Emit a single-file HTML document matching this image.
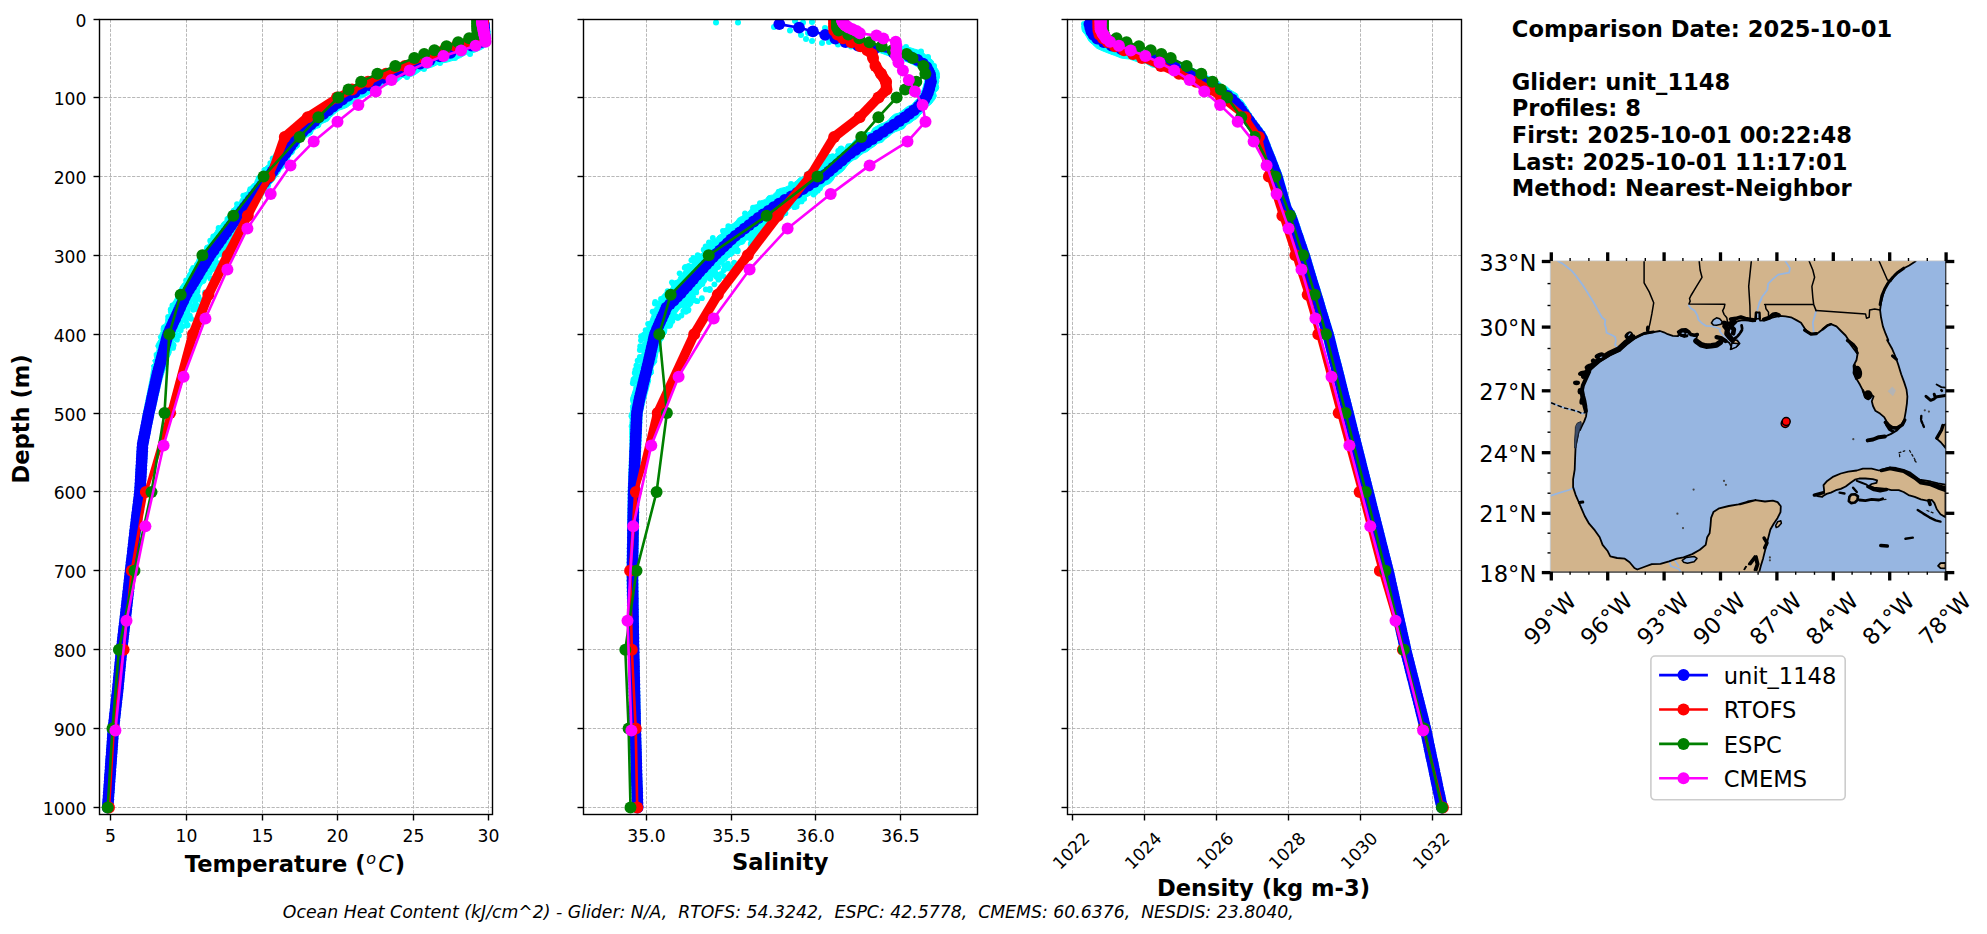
<!DOCTYPE html>
<html lang="en"><head><meta charset="utf-8"><title>Glider vs model comparison</title>
<style>html,body{margin:0;padding:0;background:#fff}svg{display:block}</style></head>
<body>
<svg width="1987" height="934" viewBox="0 0 1987 934" font-family="'DejaVu Sans','Liberation Sans',sans-serif">
<rect width="1987" height="934" fill="#fff"/>
<g id="panel1">
<g stroke="#b0b0b0" stroke-width="0.9" stroke-dasharray="3.25 1.4" fill="none">
<line x1="110.5" y1="19.5" x2="110.5" y2="814.5"/>
<line x1="186.5" y1="19.5" x2="186.5" y2="814.5"/>
<line x1="262.5" y1="19.5" x2="262.5" y2="814.5"/>
<line x1="337.5" y1="19.5" x2="337.5" y2="814.5"/>
<line x1="413.5" y1="19.5" x2="413.5" y2="814.5"/>
<line x1="488.5" y1="19.5" x2="488.5" y2="814.5"/>
<line x1="99.5" y1="97.5" x2="492.5" y2="97.5"/>
<line x1="99.5" y1="176.5" x2="492.5" y2="176.5"/>
<line x1="99.5" y1="255.5" x2="492.5" y2="255.5"/>
<line x1="99.5" y1="334.5" x2="492.5" y2="334.5"/>
<line x1="99.5" y1="413.5" x2="492.5" y2="413.5"/>
<line x1="99.5" y1="491.5" x2="492.5" y2="491.5"/>
<line x1="99.5" y1="570.5" x2="492.5" y2="570.5"/>
<line x1="99.5" y1="649.5" x2="492.5" y2="649.5"/>
<line x1="99.5" y1="728.5" x2="492.5" y2="728.5"/>
<line x1="99.5" y1="807.5" x2="492.5" y2="807.5"/>
</g>
<clipPath id="clip0"><rect x="99.5" y="19.5" width="393" height="795"/></clipPath>
<g clip-path="url(#clip0)">
<g fill="#00ffff"><circle cx="214.9" cy="268.4" r="2.9"/><circle cx="196.2" cy="298.5" r="2.9"/><circle cx="234.1" cy="242.4" r="2.9"/><circle cx="189.9" cy="315.7" r="2.9"/><circle cx="191.2" cy="318.8" r="2.9"/><circle cx="231.5" cy="246.5" r="2.9"/><circle cx="180.7" cy="330.2" r="2.9"/><circle cx="198.4" cy="296.7" r="2.9"/><circle cx="228" cy="248" r="2.9"/><circle cx="233.8" cy="243.6" r="2.9"/><circle cx="229.6" cy="247.7" r="2.9"/><circle cx="201.1" cy="300.1" r="2.9"/><circle cx="182.6" cy="326.5" r="2.9"/><circle cx="210.5" cy="270.6" r="2.9"/><circle cx="240.3" cy="227.9" r="2.9"/><circle cx="173.4" cy="345.3" r="2.9"/><circle cx="230.5" cy="246.2" r="2.9"/><circle cx="212.6" cy="269" r="2.9"/><circle cx="173.5" cy="345" r="2.9"/><circle cx="195.5" cy="301.2" r="2.9"/><circle cx="213.9" cy="267" r="2.9"/><circle cx="230.7" cy="243.5" r="2.9"/><circle cx="186" cy="321.3" r="2.9"/><circle cx="186.6" cy="325.6" r="2.9"/><circle cx="231.9" cy="246.4" r="2.9"/><circle cx="196.5" cy="299.2" r="2.9"/><circle cx="205" cy="292.5" r="2.9"/><circle cx="209.5" cy="272.9" r="2.9"/><circle cx="173.2" cy="346.7" r="2.9"/><circle cx="236.8" cy="236.5" r="2.9"/><circle cx="217.1" cy="262.9" r="2.9"/><circle cx="195.6" cy="309" r="2.9"/><circle cx="218.4" cy="269.8" r="2.9"/><circle cx="195.5" cy="304.3" r="2.9"/><circle cx="197.5" cy="291.4" r="2.9"/><circle cx="232.3" cy="243.7" r="2.9"/><circle cx="187.5" cy="312.4" r="2.9"/><circle cx="193.6" cy="306.1" r="2.9"/><circle cx="196.7" cy="298.6" r="2.9"/><circle cx="225.5" cy="250.9" r="2.9"/><circle cx="173" cy="347.9" r="2.9"/><circle cx="178.9" cy="335.5" r="2.9"/><circle cx="239.6" cy="232.1" r="2.9"/><circle cx="243.8" cy="223.5" r="2.9"/><circle cx="219" cy="268.9" r="2.9"/><circle cx="187" cy="317.6" r="2.9"/><circle cx="197.9" cy="306.1" r="2.9"/><circle cx="229.1" cy="244" r="2.9"/><circle cx="221.9" cy="262.2" r="2.9"/><circle cx="222.3" cy="254.5" r="2.9"/><circle cx="195.7" cy="303.6" r="2.9"/><circle cx="210.4" cy="278.4" r="2.9"/><circle cx="241.6" cy="224.6" r="2.9"/><circle cx="241.9" cy="224.3" r="2.9"/><circle cx="187.7" cy="325" r="2.9"/><circle cx="234.1" cy="238.2" r="2.9"/><circle cx="243.5" cy="222.8" r="2.9"/><circle cx="193" cy="309.8" r="2.9"/><circle cx="177" cy="339.7" r="2.9"/><circle cx="240.3" cy="228.1" r="2.9"/><circle cx="218.6" cy="230.5" r="2.9"/><circle cx="286.1" cy="140.3" r="2.9"/><circle cx="213.3" cy="236.3" r="2.9"/><circle cx="233.7" cy="210.6" r="2.9"/><circle cx="250.2" cy="189.2" r="2.9"/><circle cx="218.7" cy="231.1" r="2.9"/><circle cx="279.4" cy="149.6" r="2.9"/><circle cx="270.3" cy="163.1" r="2.9"/><circle cx="272.7" cy="158.3" r="2.9"/><circle cx="172.4" cy="305.5" r="2.9"/><circle cx="200.5" cy="255.4" r="2.9"/><circle cx="178.1" cy="294.2" r="2.9"/><circle cx="210.2" cy="240.7" r="2.9"/><circle cx="193.1" cy="267.8" r="2.9"/><circle cx="191.6" cy="270.6" r="2.9"/><circle cx="258.6" cy="178.1" r="2.9"/><circle cx="186.1" cy="280.3" r="2.9"/><circle cx="168.1" cy="316.8" r="2.9"/><circle cx="189.5" cy="276" r="2.9"/><circle cx="243.3" cy="195.6" r="2.9"/><circle cx="264.4" cy="169.9" r="2.9"/><circle cx="287.2" cy="138.9" r="2.9"/><circle cx="218.6" cy="228" r="2.9"/><circle cx="170.7" cy="309.5" r="2.9"/><circle cx="237" cy="204.1" r="2.9"/></g>
<polygon fill="#00ffff" stroke="#00ffff" stroke-width="1" stroke-linejoin="round" points="479,24.3 479.1,26.7 479.2,29 479.3,31.4 479.3,33.8 479.5,35 480.2,35.8 479.3,36.7 476.6,38.6 470.4,40.8 463.6,43.1 456.4,45.4 449.8,47.8 443,50.2 435.7,52.5 429.1,54.9 422.8,57.3 416.4,59.7 410.2,62 404.1,64.3 398.1,66.7 392,69 386.5,71.3 381,73.6 375.5,75.9 370.4,78.3 365.5,80.6 360.6,82.9 355.9,85.2 351.3,87.6 346.6,90 341.8,92.4 338.4,94.8 335,97.3 331.8,99.5 328.6,101.8 325.4,104.1 321.6,105.5 319.2,108.9 315.9,111.4 312.8,113.5 309.7,115.6 307.6,118.7 304.5,120.5 301.6,122.6 298.7,124.6 295.5,126.6 293,129.7 290.2,132.3 287.9,134.7 287.2,138.2 283.9,139.5 283.3,142.6 281.8,145.1 280.3,147.6 278.1,149.6 276,151.7 274,153.8 273.2,156.8 272.1,159.6 269.8,161.5 268.6,164.2 266.1,166 264.2,168.2 263,170.7 260.3,172.3 258.9,174.8 257.3,177.4 255.5,179.8 254.5,182.8 251.8,184.6 250.1,187 248,189.2 246.8,192.1 243.5,193.3 243.4,197.1 240.6,198.7 239.5,201.7 237,203.5 235.1,205.9 233.2,208.4 231.3,210.8 228.7,212.6 227.9,215.7 225.2,217.4 224.9,220.7 222.3,222.5 220.8,225 219.3,227.5 216.7,229.2 215.2,231.7 213.5,234 211.8,236.4 210,238.7 209.6,242 208.3,244.5 205,245.9 204.4,249.1 203,251.8 201.7,254.4 198.6,255.9 197.4,258.4 196.5,261.1 194.7,263.3 194.1,266.1 191.9,268 191.3,270.9 188.5,272.5 187.5,275.1 186.6,277.8 185.9,280.6 183.6,282.5 181.9,284.6 180.2,287.1 179.1,289.9 177.9,292.6 176.1,294.9 175.6,297.6 174.5,300 172.9,302.1 172.6,304.8 170.3,306.6 169.8,309.2 168.4,311.5 169.2,314.7 167.5,316.7 165.8,318.8 165.6,321.6 164.8,324.1 161.9,325.6 161.1,328.5 161.2,331.7 159.9,334.2 158.2,336.6 159.2,339.4 157.8,341.6 156.6,343.8 155.7,346.1 157.2,349 156.7,351.4 154.2,353.3 154.2,355.8 154.8,358.5 152.6,360.5 154.1,363.4 151.5,365.3 152,367.9 151.5,370.4 151.1,372.9 150.7,375.4 150.3,377.8 149.9,380.2 149.4,382.6 149,385 148.5,387.3 148,389.7 147.5,392.1 147.1,394.5 146.6,396.8 146.1,399.2 145.6,401.6 145.2,404 144.7,406.3 144.2,408.7 143.7,411.2 143.3,413.6 142.9,416 142.5,418.4 142,420.7 141.6,423.1 141.2,425.5 140.8,427.9 140.3,430.2 139.9,432.6 139.4,435 138.9,437.3 138.5,439.7 138,442.3 137.6,444.8 137.4,447.4 137.3,449.8 137.2,452.2 137,454.6 136.9,456.9 136.8,459.3 136.6,461.7 136.5,464 136.3,466.4 136.2,468.8 136.1,471.1 135.9,473.5 135.8,475.9 135.7,478.2 135.5,480.6 135.4,483 135.3,485.3 135.1,487.7 135,490 134.8,492.2 134.5,494.5 134.3,496.8 134,499.2 133.7,501.6 133.4,503.9 133.1,506.3 132.8,508.7 132.5,511 132.2,513.4 131.9,515.8 131.6,518.1 131.3,520.5 131,522.9 130.8,525.3 130.5,527.7 130.2,530 130,532.4 129.7,534.8 129.4,537.1 129.1,539.5 128.9,541.9 128.6,544.2 128.3,546.6 128.1,549 127.8,551.3 127.5,553.7 127.3,556.1 127,558.4 126.7,560.8 126.4,563.2 126.2,565.5 125.9,567.9 125.6,570.3 125.4,572.6 125.1,575 124.8,577.4 124.6,579.7 124.3,582.1 124,584.5 123.8,586.8 123.5,589.2 123.2,591.6 123,593.9 122.7,596.3 122.5,598.7 122.2,601 121.9,603.4 121.7,605.8 121.4,608.1 121.1,610.5 120.9,612.9 120.6,615.2 120.3,617.6 120.1,619.9 119.8,622.3 119.5,624.7 119.2,627 118.9,629.4 118.7,631.8 118.4,634.1 118.1,636.5 117.8,638.9 117.6,641.2 117.3,643.6 117,646 116.7,648.4 116.5,650.8 116.2,653.2 116,655.5 115.8,657.9 115.6,660.3 115.3,662.6 115.1,665 114.9,667.4 114.6,669.7 114.4,672.1 114.2,674.5 114,676.8 113.7,679.2 113.5,681.6 113.3,683.9 113.1,686.3 112.8,688.6 112.6,691 112.3,693.3 112,695.7 111.8,698.1 111.5,700.4 111.2,702.8 111,705.2 110.7,707.5 110.5,709.9 110.2,712.3 109.9,714.6 109.7,717 109.4,719.4 109.1,721.7 108.9,724.1 108.6,726.5 108.4,728.9 108.2,731.4 108,733.8 107.8,736.1 107.7,738.5 107.5,740.9 107.3,743.2 107.2,745.6 107,748 106.8,750.3 106.6,752.7 106.5,755.1 106.3,757.4 106.1,759.8 106,762.2 105.8,764.5 105.6,766.9 105.4,769.3 105.3,771.6 105.1,774 104.9,776.4 104.8,778.7 104.6,781.1 104.4,783.5 104.3,785.8 104.1,788.2 103.9,790.6 103.7,792.9 103.6,795.3 103.4,797.7 103.2,800 103.1,802.4 102.9,804.8 102.7,807.1 112.7,807.9 112.9,805.5 113,803.1 113.2,800.8 113.4,798.4 113.5,796 113.7,793.7 113.9,791.3 114.1,788.9 114.2,786.6 114.4,784.2 114.6,781.8 114.7,779.5 114.9,777.1 115.1,774.7 115.3,772.4 115.4,770 115.6,767.6 115.8,765.3 115.9,762.9 116.1,760.5 116.3,758.2 116.4,755.8 116.6,753.4 116.8,751.1 117,748.7 117.1,746.3 117.3,744 117.5,741.6 117.6,739.2 117.8,736.9 118,734.5 118.2,732.1 118.3,729.8 118.6,727.5 118.8,725.2 119.1,722.8 119.3,720.5 119.6,718.1 119.9,715.7 120.1,713.4 120.4,711 120.7,708.6 120.9,706.3 121.2,703.9 121.4,701.5 121.7,699.2 122,696.8 122.2,694.4 122.5,692.1 122.8,689.7 123,687.3 123.2,684.9 123.5,682.5 123.7,680.2 123.9,677.8 124.1,675.4 124.4,673.1 124.6,670.7 124.8,668.3 125.1,666 125.3,663.6 125.5,661.2 125.7,658.9 126,656.5 126.2,654.1 126.4,651.8 126.7,649.5 126.9,647.1 127.2,644.8 127.5,642.4 127.8,640 128,637.7 128.3,635.3 128.6,632.9 128.9,630.6 129.2,628.2 129.4,625.8 129.7,623.5 130,621.1 130.3,618.7 130.5,616.4 130.8,614 131.1,611.6 131.3,609.2 131.6,606.9 131.9,604.5 132.1,602.1 132.4,599.8 132.7,597.4 132.9,595 133.2,592.7 133.4,590.3 133.7,587.9 134,585.6 134.2,583.2 134.5,580.8 134.8,578.5 135,576.1 135.3,573.7 135.6,571.4 135.8,569 136.1,566.7 136.4,564.3 136.6,561.9 136.9,559.6 137.2,557.2 137.5,554.8 137.7,552.5 138,550.1 138.3,547.7 138.5,545.4 138.8,543 139.1,540.6 139.3,538.3 139.6,535.9 139.9,533.5 140.2,531.2 140.4,528.8 140.7,526.4 141,524.1 141.3,521.7 141.5,519.4 141.8,517 142.1,514.6 142.4,512.3 142.7,509.9 143,507.5 143.3,505.2 143.6,502.8 143.9,500.4 144.2,498.1 144.5,495.6 144.8,493.2 145,490.8 145.1,488.3 145.3,485.9 145.4,483.5 145.5,481.2 145.7,478.8 145.8,476.4 145.9,474.1 146.1,471.7 146.2,469.3 146.3,467 146.5,464.6 146.6,462.2 146.7,459.9 146.9,457.5 147,455.1 147.1,452.8 147.3,450.4 147.4,448.2 147.5,446 147.9,443.8 148.3,441.6 148.7,439.3 149.2,436.9 149.7,434.5 150.1,432.2 150.6,429.8 151.1,427.4 151.6,425.1 152.1,422.7 152.6,420.3 153.1,418 153.5,415.7 154,413.3 154.6,411 155.1,408.6 155.7,406.3 156.2,403.9 156.8,401.6 157.3,399.2 157.9,396.8 158.4,394.5 158.9,392.1 159.5,389.8 160,387.4 160.6,385 161.1,382.7 161.8,380.3 162.5,378 163.1,375.8 163.8,373.5 164.6,371.2 165.4,368.9 166.1,366.6 168.1,364.6 167.9,362 167.7,359.4 169,357.2 170.2,355 171.2,352.8 171.2,350.2 173,348.1 173.2,345.7 174.7,343.5 173.5,340.7 176.4,339.4 176.2,337.1 178,335.4 177.4,332.7 179.7,330.9 179.5,328 180.9,325.7 183,323.8 183.2,321.1 185.5,319.3 184.9,316.1 188.1,314.7 188.8,312.2 189.9,309.8 190.8,307.4 191.4,304.8 192.5,302.6 193.2,300.3 194.2,298.1 196.1,296.3 197,293.8 199.4,292.1 199.9,289.1 201,286.5 202.4,284.1 205.4,282.8 206.3,280.1 207.8,277.7 208.7,275 210.5,272.9 211.7,270.4 213.7,268.3 214.7,265.7 217.2,264.1 216.9,260.9 218.1,258.4 219.8,256.3 222.2,254.4 224,252.1 226.2,250.1 227.4,247.4 227.6,244 230.5,242.5 231.5,239.7 233.9,237.8 235.5,235.4 236.8,232.7 238.3,230.3 239,227.2 241.6,225.5 243.2,223.2 244.8,220.9 246.1,218.3 247.8,215.9 250.6,214.2 250.7,210.5 252.4,208 254.1,205.5 256.7,203.7 258.5,201.3 260.4,199 262.3,196.7 263.8,194 265.7,191.7 267.7,189.4 270.1,187.5 270.7,184 273,181.9 274.8,179.5 276.5,177.1 278.3,174.7 280,172.3 281.3,169.7 283.8,167.9 285,165.2 286.8,162.9 289.1,161 289.6,157.7 291.2,155.3 293.8,153.7 294.8,150.8 296.9,148.7 299.3,146.9 299.5,143.8 301,141.7 303.6,140.1 305.6,137.6 308.9,136 312,134.2 313.4,130.5 316.4,128.5 320,127.3 321.4,123.7 324.8,122.4 328.4,120.8 330.6,117.4 333.5,114.8 336.5,112.2 339.7,109.9 343.7,108.7 347,107.3 349.8,105.3 353.8,102.6 357.3,99 362.3,97.8 366.9,95.4 371.4,92.6 376.3,90.7 380.8,87.5 386.2,85.3 391.7,83.5 397.3,81.7 402.4,77.5 409.2,77.2 415.1,74.7 420.6,70.8 426.9,68.6 433.3,66.6 439.6,63.4 447.1,62.1 454,60.1 460.6,57.6 467.3,53.8 474.8,52.2 481.8,49.2 486.7,46.2 490.2,41.6 490.6,37.2 490.4,33.4 490,31 489.7,28.7 489.3,26.3 489,23.9"/>
<g fill="#00ffff"><circle cx="470" cy="54" r="3"/><circle cx="455" cy="58" r="3"/><circle cx="440" cy="63" r="3"/><circle cx="424" cy="69" r="3"/><circle cx="407" cy="77" r="3"/></g>
<polyline fill="none" stroke="#0000ff" stroke-width="2.6" stroke-linejoin="round" points="484,24.1 484.1,27.7 484.3,31.3 484.4,34.9 484.4,38.5 481.2,42.1 471.5,45.7 460.8,49.2 450.5,52.8 439.9,56.4 429.8,60 420.2,63.6 410.8,67.2 401.7,70.8 392.7,74.4 384.6,78 376.4,81.6 369,85.1 361.8,88.7 354.8,92.3 348,95.9 342.3,99.5 337.6,103.1 332.9,106.7 328.2,110.3 323.4,113.9 318.7,117.4 314.7,121 310.7,124.6 306.7,128.2 302.7,131.8 298.7,135.4 295.5,139 293,142.6 290.4,146.2 287.9,149.8 285.4,153.3 282.8,156.9 280.3,160.5 277.7,164.1 275.2,167.7 272.6,171.3 270.1,174.9 267.4,178.5 264.5,182.1 261.7,185.6 258.9,189.2 256.1,192.8 253.3,196.4 250.4,200 247.6,203.6 244.8,207.2 242,210.8 239.1,214.4 236.5,218 233.9,221.5 231.4,225.1 228.8,228.7 226.3,232.3 223.7,235.9 221.2,239.5 218.7,243.1 216.1,246.7 213.6,250.3 211,253.8 208.7,257.4 206.5,261 204.3,264.6 202.1,268.2 199.9,271.8 197.8,275.4 195.6,279 193.4,282.6 191.2,286.2 189,289.7 186.8,293.3 185,296.9 183.4,300.5 181.7,304.1 180.1,307.7 178.4,311.3 176.8,314.9 175.2,318.5 173.5,322 171.9,325.6 170.2,329.2 168.6,332.8 167.4,336.4 166.4,340 165.5,343.6 164.5,347.2 163.6,350.8 162.6,354.4 161.7,357.9 160.7,361.5 159.8,365.1 158.8,368.7 157.8,372.3 157,375.9 156.2,379.5 155.4,383.1 154.6,386.7 153.8,390.2 153,393.8 152.2,397.4 151.5,401 150.7,404.6 149.9,408.2 149.1,411.8 148.3,415.4 147.6,419 146.9,422.6 146.2,426.1 145.5,429.7 144.8,433.3 144.1,436.9 143.4,440.5 142.7,444.1 142.4,447.7 142.2,451.3 142,454.9 141.8,458.4 141.6,462 141.4,465.6 141.2,469.2 141,472.8 140.8,476.4 140.6,480 140.4,483.6 140.2,487.2 140,490.8 139.6,494.3 139.2,497.9 138.7,501.5 138.3,505.1 137.8,508.7 137.4,512.3 136.9,515.9 136.5,519.5 136.1,523.1 135.6,526.6 135.2,530.2 134.8,533.8 134.4,537.4 134,541 133.6,544.6 133.2,548.2 132.8,551.8 132.4,555.4 132,559 131.5,562.5 131.1,566.1 130.7,569.7 130.3,573.3 129.9,576.9 129.5,580.5 129.1,584.1 128.7,587.7 128.3,591.3 127.9,594.8 127.5,598.4 127.1,602 126.7,605.6 126.3,609.2 125.9,612.8 125.5,616.4 125.1,620 124.7,623.6 124.2,627.1 123.8,630.7 123.4,634.3 123,637.9 122.6,641.5 122.1,645.1 121.7,648.7 121.4,652.3 121,655.9 120.7,659.5 120.3,663 120,666.6 119.6,670.2 119.3,673.8 118.9,677.4 118.6,681 118.2,684.6 117.9,688.2 117.5,691.8 117.1,695.3 116.7,698.9 116.3,702.5 115.9,706.1 115.5,709.7 115.1,713.3 114.7,716.9 114.3,720.5 113.9,724.1 113.5,727.7 113.2,731.2 112.9,734.8 112.7,738.4 112.4,742 112.2,745.6 111.9,749.2 111.7,752.8 111.4,756.4 111.1,760 110.9,763.5 110.6,767.1 110.4,770.7 110.1,774.3 109.8,777.9 109.6,781.5 109.3,785.1 109.1,788.7 108.8,792.3 108.5,795.9 108.3,799.4 108,803 107.8,806.6 107.7,807.5"/>
<g fill="#0000ff"><circle cx="484" cy="24.1" r="5.9"/><circle cx="484.1" cy="27.7" r="5.9"/><circle cx="484.3" cy="31.3" r="5.9"/><circle cx="484.4" cy="34.9" r="5.9"/><circle cx="484.4" cy="38.5" r="5.9"/><circle cx="481.2" cy="42.1" r="5.9"/><circle cx="471.5" cy="45.7" r="5.9"/><circle cx="460.8" cy="49.2" r="5.9"/><circle cx="450.5" cy="52.8" r="5.9"/><circle cx="439.9" cy="56.4" r="5.9"/><circle cx="429.8" cy="60" r="5.9"/><circle cx="420.2" cy="63.6" r="5.9"/><circle cx="410.8" cy="67.2" r="5.9"/><circle cx="401.7" cy="70.8" r="5.9"/><circle cx="392.7" cy="74.4" r="5.9"/><circle cx="384.6" cy="78" r="5.9"/><circle cx="376.4" cy="81.6" r="5.9"/><circle cx="369" cy="85.1" r="5.9"/><circle cx="361.8" cy="88.7" r="5.9"/><circle cx="354.8" cy="92.3" r="5.9"/><circle cx="348" cy="95.9" r="5.9"/><circle cx="342.3" cy="99.5" r="5.9"/><circle cx="337.6" cy="103.1" r="5.9"/><circle cx="332.9" cy="106.7" r="5.9"/><circle cx="328.2" cy="110.3" r="5.9"/><circle cx="323.4" cy="113.9" r="5.9"/><circle cx="318.7" cy="117.4" r="5.9"/><circle cx="314.7" cy="121" r="5.9"/><circle cx="310.7" cy="124.6" r="5.9"/><circle cx="306.7" cy="128.2" r="5.9"/><circle cx="302.7" cy="131.8" r="5.9"/><circle cx="298.7" cy="135.4" r="5.9"/><circle cx="295.5" cy="139" r="5.9"/><circle cx="293" cy="142.6" r="5.9"/><circle cx="290.4" cy="146.2" r="5.9"/><circle cx="287.9" cy="149.8" r="5.9"/><circle cx="285.4" cy="153.3" r="5.9"/><circle cx="282.8" cy="156.9" r="5.9"/><circle cx="280.3" cy="160.5" r="5.9"/><circle cx="277.7" cy="164.1" r="5.9"/><circle cx="275.2" cy="167.7" r="5.9"/><circle cx="272.6" cy="171.3" r="5.9"/><circle cx="270.1" cy="174.9" r="5.9"/><circle cx="267.4" cy="178.5" r="5.9"/><circle cx="264.5" cy="182.1" r="5.9"/><circle cx="261.7" cy="185.6" r="5.9"/><circle cx="258.9" cy="189.2" r="5.9"/><circle cx="256.1" cy="192.8" r="5.9"/><circle cx="253.3" cy="196.4" r="5.9"/><circle cx="250.4" cy="200" r="5.9"/><circle cx="247.6" cy="203.6" r="5.9"/><circle cx="244.8" cy="207.2" r="5.9"/><circle cx="242" cy="210.8" r="5.9"/><circle cx="239.1" cy="214.4" r="5.9"/><circle cx="236.5" cy="218" r="5.9"/><circle cx="233.9" cy="221.5" r="5.9"/><circle cx="231.4" cy="225.1" r="5.9"/><circle cx="228.8" cy="228.7" r="5.9"/><circle cx="226.3" cy="232.3" r="5.9"/><circle cx="223.7" cy="235.9" r="5.9"/><circle cx="221.2" cy="239.5" r="5.9"/><circle cx="218.7" cy="243.1" r="5.9"/><circle cx="216.1" cy="246.7" r="5.9"/><circle cx="213.6" cy="250.3" r="5.9"/><circle cx="211" cy="253.8" r="5.9"/><circle cx="208.7" cy="257.4" r="5.9"/><circle cx="206.5" cy="261" r="5.9"/><circle cx="204.3" cy="264.6" r="5.9"/><circle cx="202.1" cy="268.2" r="5.9"/><circle cx="199.9" cy="271.8" r="5.9"/><circle cx="197.8" cy="275.4" r="5.9"/><circle cx="195.6" cy="279" r="5.9"/><circle cx="193.4" cy="282.6" r="5.9"/><circle cx="191.2" cy="286.2" r="5.9"/><circle cx="189" cy="289.7" r="5.9"/><circle cx="186.8" cy="293.3" r="5.9"/><circle cx="185" cy="296.9" r="5.9"/><circle cx="183.4" cy="300.5" r="5.9"/><circle cx="181.7" cy="304.1" r="5.9"/><circle cx="180.1" cy="307.7" r="5.9"/><circle cx="178.4" cy="311.3" r="5.9"/><circle cx="176.8" cy="314.9" r="5.9"/><circle cx="175.2" cy="318.5" r="5.9"/><circle cx="173.5" cy="322" r="5.9"/><circle cx="171.9" cy="325.6" r="5.9"/><circle cx="170.2" cy="329.2" r="5.9"/><circle cx="168.6" cy="332.8" r="5.9"/><circle cx="167.4" cy="336.4" r="5.9"/><circle cx="166.4" cy="340" r="5.9"/><circle cx="165.5" cy="343.6" r="5.9"/><circle cx="164.5" cy="347.2" r="5.9"/><circle cx="163.6" cy="350.8" r="5.9"/><circle cx="162.6" cy="354.4" r="5.9"/><circle cx="161.7" cy="357.9" r="5.9"/><circle cx="160.7" cy="361.5" r="5.9"/><circle cx="159.8" cy="365.1" r="5.9"/><circle cx="158.8" cy="368.7" r="5.9"/><circle cx="157.8" cy="372.3" r="5.9"/><circle cx="157" cy="375.9" r="5.9"/><circle cx="156.2" cy="379.5" r="5.9"/><circle cx="155.4" cy="383.1" r="5.9"/><circle cx="154.6" cy="386.7" r="5.9"/><circle cx="153.8" cy="390.2" r="5.9"/><circle cx="153" cy="393.8" r="5.9"/><circle cx="152.2" cy="397.4" r="5.9"/><circle cx="151.5" cy="401" r="5.9"/><circle cx="150.7" cy="404.6" r="5.9"/><circle cx="149.9" cy="408.2" r="5.9"/><circle cx="149.1" cy="411.8" r="5.9"/><circle cx="148.3" cy="415.4" r="5.9"/><circle cx="147.6" cy="419" r="5.9"/><circle cx="146.9" cy="422.6" r="5.9"/><circle cx="146.2" cy="426.1" r="5.9"/><circle cx="145.5" cy="429.7" r="5.9"/><circle cx="144.8" cy="433.3" r="5.9"/><circle cx="144.1" cy="436.9" r="5.9"/><circle cx="143.4" cy="440.5" r="5.9"/><circle cx="142.7" cy="444.1" r="5.9"/><circle cx="142.4" cy="447.7" r="5.9"/><circle cx="142.2" cy="451.3" r="5.9"/><circle cx="142" cy="454.9" r="5.9"/><circle cx="141.8" cy="458.4" r="5.9"/><circle cx="141.6" cy="462" r="5.9"/><circle cx="141.4" cy="465.6" r="5.9"/><circle cx="141.2" cy="469.2" r="5.9"/><circle cx="141" cy="472.8" r="5.9"/><circle cx="140.8" cy="476.4" r="5.9"/><circle cx="140.6" cy="480" r="5.9"/><circle cx="140.4" cy="483.6" r="5.9"/><circle cx="140.2" cy="487.2" r="5.9"/><circle cx="140" cy="490.8" r="5.9"/><circle cx="139.6" cy="494.3" r="5.9"/><circle cx="139.2" cy="497.9" r="5.9"/><circle cx="138.7" cy="501.5" r="5.9"/><circle cx="138.3" cy="505.1" r="5.9"/><circle cx="137.8" cy="508.7" r="5.9"/><circle cx="137.4" cy="512.3" r="5.9"/><circle cx="136.9" cy="515.9" r="5.9"/><circle cx="136.5" cy="519.5" r="5.9"/><circle cx="136.1" cy="523.1" r="5.9"/><circle cx="135.6" cy="526.6" r="5.9"/><circle cx="135.2" cy="530.2" r="5.9"/><circle cx="134.8" cy="533.8" r="5.9"/><circle cx="134.4" cy="537.4" r="5.9"/><circle cx="134" cy="541" r="5.9"/><circle cx="133.6" cy="544.6" r="5.9"/><circle cx="133.2" cy="548.2" r="5.9"/><circle cx="132.8" cy="551.8" r="5.9"/><circle cx="132.4" cy="555.4" r="5.9"/><circle cx="132" cy="559" r="5.9"/><circle cx="131.5" cy="562.5" r="5.9"/><circle cx="131.1" cy="566.1" r="5.9"/><circle cx="130.7" cy="569.7" r="5.9"/><circle cx="130.3" cy="573.3" r="5.9"/><circle cx="129.9" cy="576.9" r="5.9"/><circle cx="129.5" cy="580.5" r="5.9"/><circle cx="129.1" cy="584.1" r="5.9"/><circle cx="128.7" cy="587.7" r="5.9"/><circle cx="128.3" cy="591.3" r="5.9"/><circle cx="127.9" cy="594.8" r="5.9"/><circle cx="127.5" cy="598.4" r="5.9"/><circle cx="127.1" cy="602" r="5.9"/><circle cx="126.7" cy="605.6" r="5.9"/><circle cx="126.3" cy="609.2" r="5.9"/><circle cx="125.9" cy="612.8" r="5.9"/><circle cx="125.5" cy="616.4" r="5.9"/><circle cx="125.1" cy="620" r="5.9"/><circle cx="124.7" cy="623.6" r="5.9"/><circle cx="124.2" cy="627.1" r="5.9"/><circle cx="123.8" cy="630.7" r="5.9"/><circle cx="123.4" cy="634.3" r="5.9"/><circle cx="123" cy="637.9" r="5.9"/><circle cx="122.6" cy="641.5" r="5.9"/><circle cx="122.1" cy="645.1" r="5.9"/><circle cx="121.7" cy="648.7" r="5.9"/><circle cx="121.4" cy="652.3" r="5.9"/><circle cx="121" cy="655.9" r="5.9"/><circle cx="120.7" cy="659.5" r="5.9"/><circle cx="120.3" cy="663" r="5.9"/><circle cx="120" cy="666.6" r="5.9"/><circle cx="119.6" cy="670.2" r="5.9"/><circle cx="119.3" cy="673.8" r="5.9"/><circle cx="118.9" cy="677.4" r="5.9"/><circle cx="118.6" cy="681" r="5.9"/><circle cx="118.2" cy="684.6" r="5.9"/><circle cx="117.9" cy="688.2" r="5.9"/><circle cx="117.5" cy="691.8" r="5.9"/><circle cx="117.1" cy="695.3" r="5.9"/><circle cx="116.7" cy="698.9" r="5.9"/><circle cx="116.3" cy="702.5" r="5.9"/><circle cx="115.9" cy="706.1" r="5.9"/><circle cx="115.5" cy="709.7" r="5.9"/><circle cx="115.1" cy="713.3" r="5.9"/><circle cx="114.7" cy="716.9" r="5.9"/><circle cx="114.3" cy="720.5" r="5.9"/><circle cx="113.9" cy="724.1" r="5.9"/><circle cx="113.5" cy="727.7" r="5.9"/><circle cx="113.2" cy="731.2" r="5.9"/><circle cx="112.9" cy="734.8" r="5.9"/><circle cx="112.7" cy="738.4" r="5.9"/><circle cx="112.4" cy="742" r="5.9"/><circle cx="112.2" cy="745.6" r="5.9"/><circle cx="111.9" cy="749.2" r="5.9"/><circle cx="111.7" cy="752.8" r="5.9"/><circle cx="111.4" cy="756.4" r="5.9"/><circle cx="111.1" cy="760" r="5.9"/><circle cx="110.9" cy="763.5" r="5.9"/><circle cx="110.6" cy="767.1" r="5.9"/><circle cx="110.4" cy="770.7" r="5.9"/><circle cx="110.1" cy="774.3" r="5.9"/><circle cx="109.8" cy="777.9" r="5.9"/><circle cx="109.6" cy="781.5" r="5.9"/><circle cx="109.3" cy="785.1" r="5.9"/><circle cx="109.1" cy="788.7" r="5.9"/><circle cx="108.8" cy="792.3" r="5.9"/><circle cx="108.5" cy="795.9" r="5.9"/><circle cx="108.3" cy="799.4" r="5.9"/><circle cx="108" cy="803" r="5.9"/><circle cx="107.8" cy="806.6" r="5.9"/><circle cx="107.7" cy="807.5" r="5.9"/></g>
<g fill="#ff0000"><polygon points="481.7,18.6 481.7,20.2 484.3,20.2 484.3,18.6"/><polygon points="481.7,20.2 481.7,21.8 484.3,21.8 484.3,20.2"/><polygon points="481.7,21.8 481.7,23.3 484.3,23.3 484.3,21.8"/><polygon points="481.7,23.3 481.7,24.9 484.3,24.9 484.3,23.3"/><polygon points="481.7,24.9 481.7,26.5 484.3,26.5 484.3,24.9"/><polygon points="481.7,26.5 481.7,28.1 484.3,28.1 484.3,26.5"/><polygon points="481.7,28.1 481.7,30.4 484.3,30.4 484.3,28.1"/><polygon points="481.7,30.3 481.2,34.2 483.8,34.5 484.3,30.6"/><polygon points="481.6,33.4 477,37.2 479,39.5 483.4,35.4"/><polygon points="477.4,36.9 467.3,40.4 468.7,44.1 478.6,39.7"/><polygon points="467.4,40.4 455.4,44.3 456.6,48.1 468.6,44.2"/><polygon points="455.4,44.3 443.4,48.3 444.6,52.1 456.6,48.1"/><polygon points="443.3,48.3 433.1,51.8 434.9,56.4 444.7,52"/><polygon points="433.1,51.8 423.1,55.7 424.9,60.4 434.9,56.4"/><polygon points="423,55.7 403.8,63.2 406.2,68.7 425,60.4"/><polygon points="403.8,63.2 384.8,71.1 387.2,76.6 406.2,68.7"/><polygon points="384.8,71.1 366.6,78.5 369.4,84.9 387.2,76.6"/><polygon points="366.5,78.6 350.3,86.2 353.7,93 369.5,84.9"/><polygon points="350.3,86.3 335.1,93.9 338.9,101 353.7,92.9"/><polygon points="334.8,94.2 305.1,113.2 310.5,121.2 339.2,100.8"/><polygon points="304.7,113.6 281.7,133.3 287.9,140.6 310.9,120.9"/><polygon points="280.3,135.2 266.5,175.2 272.5,177.6 289.3,138.7"/><polygon points="266.7,174.8 244.1,213.8 251.5,217.9 272.3,177.9"/><polygon points="244,213.9 223.5,253.1 232.1,257.4 251.6,217.7"/><polygon points="223.5,253.1 204.1,292.6 212.7,296.8 232.1,257.4"/><polygon points="203.9,293 188.6,332.4 197.4,335.9 212.9,296.5"/><polygon points="188.4,332.8 167.2,412.2 173,413.9 197.6,335.5"/><polygon points="167.2,412.2 144.2,491.4 147.6,492.4 173,413.9"/><polygon points="144.2,491.6 130.4,570.6 133.2,571.1 147.6,492.2"/><polygon points="130.4,570.7 122.3,649.6 124.9,649.8 133.2,571"/><polygon points="122.3,649.6 112.5,728.4 115.1,728.8 124.9,649.9"/><polygon points="112.5,728.5 107.7,807.4 110.3,807.6 115.1,728.7"/><circle cx="483" cy="18.6" r="1.3"/><circle cx="483" cy="20.2" r="1.3"/><circle cx="483" cy="21.8" r="1.3"/><circle cx="483" cy="23.3" r="1.3"/><circle cx="483" cy="24.9" r="1.3"/><circle cx="483" cy="26.5" r="1.3"/><circle cx="483" cy="28.1" r="1.3"/><circle cx="483" cy="30.4" r="1.3"/><circle cx="482.5" cy="34.4" r="1.3"/><circle cx="478" cy="38.3" r="1.5"/><circle cx="468" cy="42.3" r="2"/><circle cx="456" cy="46.2" r="2"/><circle cx="444" cy="50.2" r="2"/><circle cx="434" cy="54.1" r="2.5"/><circle cx="424" cy="58" r="2.5"/><circle cx="405" cy="65.9" r="3"/><circle cx="386" cy="73.8" r="3"/><circle cx="368" cy="81.7" r="3.5"/><circle cx="352" cy="89.6" r="3.8"/><circle cx="337" cy="97.5" r="4"/><circle cx="307.8" cy="117.2" r="4.8"/><circle cx="284.8" cy="136.9" r="4.8"/><circle cx="269.5" cy="176.4" r="3.2"/><circle cx="247.8" cy="215.8" r="4.2"/><circle cx="227.8" cy="255.3" r="4.8"/><circle cx="208.4" cy="294.7" r="4.8"/><circle cx="193" cy="334.2" r="4.8"/><circle cx="170.1" cy="413" r="3"/><circle cx="145.9" cy="491.9" r="1.8"/><circle cx="131.8" cy="570.8" r="1.4"/><circle cx="123.6" cy="649.7" r="1.3"/><circle cx="113.8" cy="728.6" r="1.3"/><circle cx="109" cy="807.5" r="1.3"/></g>
<polyline fill="none" stroke="#ff0000" stroke-width="0.1" stroke-linejoin="round" points="483,18.6 483,20.2 483,21.8 483,23.3 483,24.9 483,26.5 483,28.1 483,30.4 482.5,34.4 478,38.3 468,42.3 456,46.2 444,50.2 434,54.1 424,58 405,65.9 386,73.8 368,81.7 352,89.6 337,97.5 307.8,117.2 284.8,136.9 269.5,176.4 247.8,215.8 227.8,255.3 208.4,294.7 193,334.2 170.1,413 145.9,491.9 131.8,570.8 123.6,649.7 113.8,728.6 109,807.5"/>
<g fill="#ff0000"><circle cx="483" cy="18.6" r="6"/><circle cx="483" cy="20.2" r="6"/><circle cx="483" cy="21.8" r="6"/><circle cx="483" cy="23.3" r="6"/><circle cx="483" cy="24.9" r="6"/><circle cx="483" cy="26.5" r="6"/><circle cx="483" cy="28.1" r="6"/><circle cx="483" cy="30.4" r="6"/><circle cx="482.5" cy="34.4" r="6"/><circle cx="478" cy="38.3" r="6"/><circle cx="468" cy="42.3" r="6"/><circle cx="456" cy="46.2" r="6"/><circle cx="444" cy="50.2" r="6"/><circle cx="434" cy="54.1" r="6"/><circle cx="424" cy="58" r="6"/><circle cx="405" cy="65.9" r="6"/><circle cx="386" cy="73.8" r="6"/><circle cx="368" cy="81.7" r="6"/><circle cx="352" cy="89.6" r="6"/><circle cx="337" cy="97.5" r="6"/><circle cx="307.8" cy="117.2" r="6"/><circle cx="284.8" cy="136.9" r="6"/><circle cx="269.5" cy="176.4" r="6"/><circle cx="247.8" cy="215.8" r="6"/><circle cx="227.8" cy="255.3" r="6"/><circle cx="208.4" cy="294.7" r="6"/><circle cx="193" cy="334.2" r="6"/><circle cx="170.1" cy="413" r="6"/><circle cx="145.9" cy="491.9" r="6"/><circle cx="131.8" cy="570.8" r="6"/><circle cx="123.6" cy="649.7" r="6"/><circle cx="113.8" cy="728.6" r="6"/><circle cx="109" cy="807.5" r="6"/></g>
<polyline fill="none" stroke="#008000" stroke-width="2.6" stroke-linejoin="round" points="477.3,18.6 477.3,20.2 477.3,21.8 477.3,23.3 477.3,24.9 477.3,26.5 477.3,28.1 477.3,30.4 477.3,34.4 469.2,38.3 458.2,42.3 446.5,46.2 434.4,50.2 424.2,54.1 414.3,58 395.3,65.9 377.4,73.8 361.2,81.7 348.5,89.6 338.3,97.5 318.4,117.2 299.6,136.9 263.6,176.4 233.3,215.8 202.4,255.3 180.7,294.7 169.3,334.2 164.5,413 151.5,491.9 134.5,570.8 118.9,649.7 112.5,728.6 107.7,807.5"/>
<g fill="#008000"><circle cx="477.3" cy="18.6" r="6"/><circle cx="477.3" cy="20.2" r="6"/><circle cx="477.3" cy="21.8" r="6"/><circle cx="477.3" cy="23.3" r="6"/><circle cx="477.3" cy="24.9" r="6"/><circle cx="477.3" cy="26.5" r="6"/><circle cx="477.3" cy="28.1" r="6"/><circle cx="477.3" cy="30.4" r="6"/><circle cx="477.3" cy="34.4" r="6"/><circle cx="469.2" cy="38.3" r="6"/><circle cx="458.2" cy="42.3" r="6"/><circle cx="446.5" cy="46.2" r="6"/><circle cx="434.4" cy="50.2" r="6"/><circle cx="424.2" cy="54.1" r="6"/><circle cx="414.3" cy="58" r="6"/><circle cx="395.3" cy="65.9" r="6"/><circle cx="377.4" cy="73.8" r="6"/><circle cx="361.2" cy="81.7" r="6"/><circle cx="348.5" cy="89.6" r="6"/><circle cx="338.3" cy="97.5" r="6"/><circle cx="318.4" cy="117.2" r="6"/><circle cx="299.6" cy="136.9" r="6"/><circle cx="263.6" cy="176.4" r="6"/><circle cx="233.3" cy="215.8" r="6"/><circle cx="202.4" cy="255.3" r="6"/><circle cx="180.7" cy="294.7" r="6"/><circle cx="169.3" cy="334.2" r="6"/><circle cx="164.5" cy="413" r="6"/><circle cx="151.5" cy="491.9" r="6"/><circle cx="134.5" cy="570.8" r="6"/><circle cx="118.9" cy="649.7" r="6"/><circle cx="112.5" cy="728.6" r="6"/><circle cx="107.7" cy="807.5" r="6"/></g>
<polyline fill="none" stroke="#ff00ff" stroke-width="2.6" stroke-linejoin="round" points="482,19 482,19.8 482,20.7 482,21.6 482.2,22.6 482.3,23.7 482.5,24.9 482.7,26.1 483,27.6 483.3,29.2 483.6,31.1 484,33.2 484.6,35.6 485.2,38.5 485.5,41.8 475.6,45.7 461.1,50.4 443.5,56 426.9,62.6 409.7,70.5 391.5,80.1 375.8,91.4 358.4,105.1 337.5,121.7 313.7,141.6 290.5,165.4 270.7,194.1 247.4,228.4 227.4,269.5 205.4,318.5 183.6,376.7 163.6,445.5 145.4,526.3 126.5,620.8 115.4,730.4"/>
<g fill="#ff00ff"><circle cx="482" cy="19" r="6"/><circle cx="482" cy="19.8" r="6"/><circle cx="482" cy="20.7" r="6"/><circle cx="482" cy="21.6" r="6"/><circle cx="482.2" cy="22.6" r="6"/><circle cx="482.3" cy="23.7" r="6"/><circle cx="482.5" cy="24.9" r="6"/><circle cx="482.7" cy="26.1" r="6"/><circle cx="483" cy="27.6" r="6"/><circle cx="483.3" cy="29.2" r="6"/><circle cx="483.6" cy="31.1" r="6"/><circle cx="484" cy="33.2" r="6"/><circle cx="484.6" cy="35.6" r="6"/><circle cx="485.2" cy="38.5" r="6"/><circle cx="485.5" cy="41.8" r="6"/><circle cx="475.6" cy="45.7" r="6"/><circle cx="461.1" cy="50.4" r="6"/><circle cx="443.5" cy="56" r="6"/><circle cx="426.9" cy="62.6" r="6"/><circle cx="409.7" cy="70.5" r="6"/><circle cx="391.5" cy="80.1" r="6"/><circle cx="375.8" cy="91.4" r="6"/><circle cx="358.4" cy="105.1" r="6"/><circle cx="337.5" cy="121.7" r="6"/><circle cx="313.7" cy="141.6" r="6"/><circle cx="290.5" cy="165.4" r="6"/><circle cx="270.7" cy="194.1" r="6"/><circle cx="247.4" cy="228.4" r="6"/><circle cx="227.4" cy="269.5" r="6"/><circle cx="205.4" cy="318.5" r="6"/><circle cx="183.6" cy="376.7" r="6"/><circle cx="163.6" cy="445.5" r="6"/><circle cx="145.4" cy="526.3" r="6"/><circle cx="126.5" cy="620.8" r="6"/><circle cx="115.4" cy="730.4" r="6"/></g>
</g>
<rect x="99.5" y="19.5" width="393" height="795" fill="none" stroke="#000" stroke-width="1.4"/>
<g stroke="#000" stroke-width="1.4">
<line x1="110.5" y1="814.5" x2="110.5" y2="820.5"/>
<line x1="186.5" y1="814.5" x2="186.5" y2="820.5"/>
<line x1="262.5" y1="814.5" x2="262.5" y2="820.5"/>
<line x1="337.5" y1="814.5" x2="337.5" y2="820.5"/>
<line x1="413.5" y1="814.5" x2="413.5" y2="820.5"/>
<line x1="488.5" y1="814.5" x2="488.5" y2="820.5"/>
<line x1="93.5" y1="19.5" x2="99.5" y2="19.5"/>
<line x1="93.5" y1="97.5" x2="99.5" y2="97.5"/>
<line x1="93.5" y1="176.5" x2="99.5" y2="176.5"/>
<line x1="93.5" y1="255.5" x2="99.5" y2="255.5"/>
<line x1="93.5" y1="334.5" x2="99.5" y2="334.5"/>
<line x1="93.5" y1="413.5" x2="99.5" y2="413.5"/>
<line x1="93.5" y1="491.5" x2="99.5" y2="491.5"/>
<line x1="93.5" y1="570.5" x2="99.5" y2="570.5"/>
<line x1="93.5" y1="649.5" x2="99.5" y2="649.5"/>
<line x1="93.5" y1="728.5" x2="99.5" y2="728.5"/>
<line x1="93.5" y1="807.5" x2="99.5" y2="807.5"/>
</g>
<g font-size="17.2" fill="#000">
<text x="110.5" y="842.3" text-anchor="middle">5</text>
<text x="186.5" y="842.3" text-anchor="middle">10</text>
<text x="262.5" y="842.3" text-anchor="middle">15</text>
<text x="337.5" y="842.3" text-anchor="middle">20</text>
<text x="413.5" y="842.3" text-anchor="middle">25</text>
<text x="488.5" y="842.3" text-anchor="middle">30</text>
<text x="86.5" y="26.8" text-anchor="end">0</text>
<text x="86.5" y="104.8" text-anchor="end">100</text>
<text x="86.5" y="183.8" text-anchor="end">200</text>
<text x="86.5" y="262.8" text-anchor="end">300</text>
<text x="86.5" y="341.8" text-anchor="end">400</text>
<text x="86.5" y="420.8" text-anchor="end">500</text>
<text x="86.5" y="498.8" text-anchor="end">600</text>
<text x="86.5" y="577.8" text-anchor="end">700</text>
<text x="86.5" y="656.8" text-anchor="end">800</text>
<text x="86.5" y="735.8" text-anchor="end">900</text>
<text x="86.5" y="814.8" text-anchor="end">1000</text>
</g>
</g>
<g id="panel2">
<g stroke="#b0b0b0" stroke-width="0.9" stroke-dasharray="3.25 1.4" fill="none">
<line x1="646.5" y1="19.5" x2="646.5" y2="814.5"/>
<line x1="731.5" y1="19.5" x2="731.5" y2="814.5"/>
<line x1="815.5" y1="19.5" x2="815.5" y2="814.5"/>
<line x1="900.5" y1="19.5" x2="900.5" y2="814.5"/>
<line x1="583.5" y1="97.5" x2="977.5" y2="97.5"/>
<line x1="583.5" y1="176.5" x2="977.5" y2="176.5"/>
<line x1="583.5" y1="255.5" x2="977.5" y2="255.5"/>
<line x1="583.5" y1="334.5" x2="977.5" y2="334.5"/>
<line x1="583.5" y1="413.5" x2="977.5" y2="413.5"/>
<line x1="583.5" y1="491.5" x2="977.5" y2="491.5"/>
<line x1="583.5" y1="570.5" x2="977.5" y2="570.5"/>
<line x1="583.5" y1="649.5" x2="977.5" y2="649.5"/>
<line x1="583.5" y1="728.5" x2="977.5" y2="728.5"/>
<line x1="583.5" y1="807.5" x2="977.5" y2="807.5"/>
</g>
<clipPath id="clip1"><rect x="583.5" y="19.5" width="394" height="795"/></clipPath>
<g clip-path="url(#clip1)">
<g fill="#00ffff"><circle cx="717.3" cy="276.7" r="2.9"/><circle cx="690" cy="302.2" r="2.9"/><circle cx="688.5" cy="309.7" r="2.9"/><circle cx="771.4" cy="225.8" r="2.9"/><circle cx="691.9" cy="296.3" r="2.9"/><circle cx="724.5" cy="269" r="2.9"/><circle cx="674.8" cy="316.3" r="2.9"/><circle cx="714.4" cy="284.3" r="2.9"/><circle cx="688.1" cy="310.5" r="2.9"/><circle cx="723.7" cy="270.3" r="2.9"/><circle cx="754.6" cy="240.4" r="2.9"/><circle cx="683.3" cy="311.1" r="2.9"/><circle cx="693" cy="296.3" r="2.9"/><circle cx="678.3" cy="317.5" r="2.9"/><circle cx="670.6" cy="323.8" r="2.9"/><circle cx="685" cy="305.9" r="2.9"/><circle cx="677.2" cy="317.5" r="2.9"/><circle cx="732.1" cy="252.4" r="2.9"/><circle cx="725.1" cy="267" r="2.9"/><circle cx="689.2" cy="304.3" r="2.9"/><circle cx="779.8" cy="216.7" r="2.9"/><circle cx="774.4" cy="222" r="2.9"/><circle cx="757.1" cy="233.7" r="2.9"/><circle cx="684.2" cy="304.4" r="2.9"/><circle cx="761.5" cy="231.7" r="2.9"/><circle cx="697.2" cy="301.2" r="2.9"/><circle cx="701.9" cy="298.2" r="2.9"/><circle cx="723.3" cy="276.1" r="2.9"/><circle cx="769.3" cy="222.5" r="2.9"/><circle cx="713.8" cy="274.8" r="2.9"/><circle cx="695" cy="300.4" r="2.9"/><circle cx="719.1" cy="278.8" r="2.9"/><circle cx="710.4" cy="278.8" r="2.9"/><circle cx="734.2" cy="262.6" r="2.9"/><circle cx="674.2" cy="315.4" r="2.9"/><circle cx="681.4" cy="315.5" r="2.9"/><circle cx="716.5" cy="276.8" r="2.9"/><circle cx="754.1" cy="238.6" r="2.9"/><circle cx="719.1" cy="274.6" r="2.9"/><circle cx="780.2" cy="217" r="2.9"/><circle cx="715.9" cy="274.4" r="2.9"/><circle cx="685.1" cy="308.7" r="2.9"/><circle cx="721.2" cy="273.8" r="2.9"/><circle cx="773.5" cy="221.3" r="2.9"/><circle cx="731.4" cy="267.3" r="2.9"/><circle cx="673.5" cy="317.4" r="2.9"/><circle cx="718.2" cy="267.1" r="2.9"/><circle cx="728.1" cy="268.4" r="2.9"/><circle cx="675.6" cy="316.1" r="2.9"/><circle cx="736.7" cy="249.5" r="2.9"/><circle cx="709.7" cy="290" r="2.9"/><circle cx="765.3" cy="230.7" r="2.9"/><circle cx="779.8" cy="214.5" r="2.9"/><circle cx="751.2" cy="243" r="2.9"/><circle cx="737.4" cy="251.4" r="2.9"/><circle cx="702.4" cy="284" r="2.9"/><circle cx="690.9" cy="297.3" r="2.9"/><circle cx="715.2" cy="272.5" r="2.9"/><circle cx="754.5" cy="238.1" r="2.9"/><circle cx="724" cy="265.1" r="2.9"/><circle cx="727.9" cy="263.7" r="2.9"/><circle cx="758.4" cy="231.2" r="2.9"/><circle cx="705.8" cy="289.4" r="2.9"/><circle cx="718.4" cy="279.7" r="2.9"/><circle cx="709.8" cy="288.8" r="2.9"/><circle cx="750.7" cy="244.1" r="2.9"/><circle cx="685.8" cy="311.8" r="2.9"/><circle cx="737.8" cy="250.4" r="2.9"/><circle cx="673.3" cy="317.3" r="2.9"/><circle cx="668.7" cy="325.9" r="2.9"/><circle cx="762.4" cy="228.3" r="2.9"/><circle cx="692.4" cy="297.6" r="2.9"/><circle cx="769.6" cy="226.7" r="2.9"/><circle cx="729.2" cy="266.8" r="2.9"/><circle cx="764.2" cy="228.2" r="2.9"/><circle cx="694.8" cy="291.1" r="2.9"/><circle cx="754.9" cy="239.6" r="2.9"/><circle cx="677.7" cy="317.8" r="2.9"/><circle cx="766" cy="227.5" r="2.9"/><circle cx="690.5" cy="303.1" r="2.9"/><circle cx="696.2" cy="292.4" r="2.9"/><circle cx="771.5" cy="220.2" r="2.9"/><circle cx="778" cy="217.4" r="2.9"/><circle cx="717.5" cy="275.6" r="2.9"/><circle cx="760.3" cy="229.5" r="2.9"/><circle cx="755.3" cy="241.1" r="2.9"/><circle cx="670" cy="325.4" r="2.9"/><circle cx="767.3" cy="222.9" r="2.9"/><circle cx="672.4" cy="320.9" r="2.9"/><circle cx="688.5" cy="302.8" r="2.9"/><circle cx="695.5" cy="259.1" r="2.9"/><circle cx="703.7" cy="249.7" r="2.9"/><circle cx="841.2" cy="148.5" r="2.9"/><circle cx="639.8" cy="357" r="2.9"/><circle cx="697.7" cy="255.1" r="2.9"/><circle cx="711.4" cy="244.7" r="2.9"/><circle cx="791.1" cy="184" r="2.9"/><circle cx="840.4" cy="149" r="2.9"/><circle cx="640.2" cy="346.2" r="2.9"/><circle cx="637.6" cy="360.7" r="2.9"/><circle cx="710.3" cy="243.1" r="2.9"/><circle cx="685.4" cy="266.9" r="2.9"/><circle cx="641.6" cy="347.3" r="2.9"/><circle cx="634.7" cy="373" r="2.9"/><circle cx="641" cy="340.3" r="2.9"/><circle cx="709" cy="242.3" r="2.9"/><circle cx="636.4" cy="365.3" r="2.9"/><circle cx="641.7" cy="337.7" r="2.9"/><circle cx="709.5" cy="243" r="2.9"/><circle cx="824.3" cy="162.6" r="2.9"/><circle cx="697" cy="261.2" r="2.9"/><circle cx="722.9" cy="230.8" r="2.9"/><circle cx="661" cy="298.8" r="2.9"/><circle cx="633.3" cy="381.3" r="2.9"/><circle cx="728.3" cy="226.1" r="2.9"/><circle cx="673.2" cy="284.2" r="2.9"/><circle cx="712.8" cy="238" r="2.9"/><circle cx="654.9" cy="303.6" r="2.9"/><circle cx="641.1" cy="336.2" r="2.9"/><circle cx="838.2" cy="150.9" r="2.9"/><circle cx="645.6" cy="330.1" r="2.9"/><circle cx="712.9" cy="244.3" r="2.9"/><circle cx="778.7" cy="191.6" r="2.9"/><circle cx="816.8" cy="169" r="2.9"/><circle cx="635.5" cy="371.8" r="2.9"/><circle cx="684.7" cy="267.8" r="2.9"/><circle cx="671.9" cy="282.3" r="2.9"/><circle cx="655.2" cy="301.8" r="2.9"/><circle cx="822.3" cy="163.5" r="2.9"/><circle cx="644.9" cy="336.3" r="2.9"/><circle cx="635" cy="378" r="2.9"/><circle cx="695.7" cy="261.4" r="2.9"/><circle cx="688.7" cy="265.9" r="2.9"/><circle cx="827.2" cy="158.9" r="2.9"/><circle cx="706.2" cy="247.5" r="2.9"/><circle cx="667.6" cy="291.2" r="2.9"/><circle cx="745" cy="213.3" r="2.9"/><circle cx="675.9" cy="283" r="2.9"/><circle cx="648.1" cy="323.8" r="2.9"/><circle cx="841.2" cy="149" r="2.9"/><circle cx="832.7" cy="156.1" r="2.9"/><circle cx="643.9" cy="334.6" r="2.9"/><circle cx="635.4" cy="369.6" r="2.9"/><circle cx="829.6" cy="156.9" r="2.9"/><circle cx="634.3" cy="381.5" r="2.9"/><circle cx="635.8" cy="371.8" r="2.9"/><circle cx="691.4" cy="260.2" r="2.9"/><circle cx="759.9" cy="203.2" r="2.9"/><circle cx="633.5" cy="379.5" r="2.9"/><circle cx="693.5" cy="257.8" r="2.9"/><circle cx="639.8" cy="350" r="2.9"/><circle cx="810.2" cy="171.9" r="2.9"/><circle cx="699.2" cy="257.4" r="2.9"/><circle cx="829.6" cy="157.9" r="2.9"/><circle cx="806.9" cy="174.5" r="2.9"/><circle cx="652.6" cy="311.6" r="2.9"/><circle cx="753" cy="207.6" r="2.9"/><circle cx="705.6" cy="246.3" r="2.9"/><circle cx="679.6" cy="273.3" r="2.9"/><circle cx="632.8" cy="383.3" r="2.9"/><circle cx="797.8" cy="202.4" r="2.9"/><circle cx="730.6" cy="254" r="2.9"/><circle cx="754.3" cy="233.3" r="2.9"/><circle cx="794.4" cy="207.2" r="2.9"/><circle cx="761.2" cy="229.6" r="2.9"/><circle cx="754.7" cy="235.4" r="2.9"/><circle cx="804.2" cy="198.8" r="2.9"/><circle cx="722.7" cy="260" r="2.9"/><circle cx="730.4" cy="251.6" r="2.9"/><circle cx="820" cy="188.3" r="2.9"/><circle cx="775.9" cy="219.1" r="2.9"/><circle cx="815.3" cy="192.4" r="2.9"/><circle cx="818.4" cy="189" r="2.9"/><circle cx="749.6" cy="238" r="2.9"/><circle cx="753.8" cy="233.9" r="2.9"/><circle cx="768.7" cy="221.5" r="2.9"/><circle cx="785.4" cy="213.2" r="2.9"/><circle cx="733.8" cy="248.5" r="2.9"/><circle cx="813.6" cy="194.5" r="2.9"/><circle cx="755.7" cy="234.8" r="2.9"/><circle cx="801.6" cy="201.4" r="2.9"/><circle cx="796.6" cy="206.5" r="2.9"/><circle cx="782.4" cy="214.7" r="2.9"/><circle cx="721.5" cy="260.2" r="2.9"/><circle cx="763.2" cy="228.9" r="2.9"/><circle cx="727.5" cy="255.5" r="2.9"/><circle cx="780.9" cy="212.6" r="2.9"/><circle cx="730.8" cy="251.3" r="2.9"/><circle cx="817.7" cy="190.7" r="2.9"/><circle cx="769.4" cy="223.9" r="2.9"/></g>
<polygon fill="#00ffff" stroke="#00ffff" stroke-width="1" stroke-linejoin="round" points="779.3,24.1 792.3,26.5 803.7,28.9 812.6,31.2 820.9,33.6 828.2,36 835,38.3 841.6,40.7 848.8,43.1 857.2,45.4 867.2,47.8 877.7,51.8 891.1,56.7 903.6,60.7 909.9,63 914.1,65 917.7,67 920,68.9 921.8,70.5 922.5,72.3 923.3,73.7 924.3,75.6 924.4,77.5 924.5,78.9 924.8,80.7 924.4,82.5 923.9,84.2 923.4,86.2 922.7,88.4 921.8,90.6 921.1,92.4 920.4,94.3 918.7,96.2 918,98.5 915.8,99.9 914,102.5 911.4,104.9 907.8,106.4 904.8,108.5 901.9,110.8 898.6,113.1 894.4,114.3 891.1,116.9 888.3,120.3 884.7,122.6 880.5,124 876.8,126.1 873.1,128.2 870.8,132.4 865.9,132.8 862.1,134.9 859.5,139 854.8,139.8 851.8,143.5 846.7,144.1 844.5,148.2 841.4,150.6 837.3,151.7 834.8,154.3 832.4,157.2 829.6,159.5 826.6,161.7 823.5,163.8 819.6,164.4 818,167.6 814.9,169.8 810.5,170.7 807.8,174.4 803.9,176.5 799.4,177.7 796.3,180.9 792.8,183.6 789,185.5 785,187.4 779.9,188.5 776,191.7 772.7,194.9 767.9,195.9 765.3,199.5 761.1,200.8 758.1,204.3 753.4,205.4 750.9,208.7 748.2,212 744.9,214 741.8,216.3 738.3,218 735.9,221.2 733,223.7 729,225.4 725.7,227.8 722.5,229.9 721.3,234 718.1,235.7 716.1,238.5 712.9,240.2 710.8,242.9 707.2,244.4 705.1,247.4 703.8,250.8 701.8,253.5 698.4,254.8 697.5,258.3 694.5,259.9 692.6,262.6 690.8,265.5 687.6,266.9 685.5,269.3 683.3,271.6 682.1,274.7 679.1,276.2 677.9,279.4 675.1,281.1 673.6,283.7 671.8,286 670.5,289.1 666.7,289.8 664.8,292.6 662.2,295.2 659.8,298.8 658,302.5 656.5,305.8 654.2,308.5 652.8,310.7 652,313.2 651.9,315.9 650.8,318.3 650.1,320.8 647.6,322.5 647.7,325.4 646.8,328.3 646,331.2 644,333.7 643.3,336.5 643.6,339.1 644.2,341.7 642.1,343.7 642,346.2 642.6,348.8 641.7,351.1 641.9,353.6 640.5,355.8 640.8,358.3 638.8,360.3 640.4,363.1 638.1,365.1 637.9,367.5 638.3,370.2 638.5,372.7 636.9,374.8 635.5,377 636.4,379.7 636.1,382.1 635.8,384.6 633.9,386.6 633.8,389.1 632.8,391.4 632.2,393.8 631.3,396.2 630.5,398.6 630.7,401.2 631.5,403.9 630.4,406.1 630.7,408.8 630.7,411.4 629.4,413.9 628.9,416.6 630.2,419.1 630,421.4 629.9,423.8 629.1,426.1 629.6,428.5 629.7,430.9 629.7,433.3 629.7,435.7 629.8,438 629.8,440.4 629.9,442.8 629.9,445.2 629.8,447.5 629.7,449.9 629.6,452.3 629.5,454.6 629.4,457 629.4,459.4 629.3,461.7 629.2,464.1 629.1,466.5 629,468.8 628.9,471.2 628.8,473.6 628.7,475.9 628.7,478.3 628.6,480.7 628.5,483 628.4,485.4 628.3,487.8 628.2,490.2 628.2,492.6 628.1,495 628.1,497.4 628.1,499.7 628,502.1 628,504.5 628,506.8 627.9,509.2 627.9,511.6 627.9,513.9 627.8,516.3 627.8,518.7 627.8,521 627.7,523.4 627.7,525.8 627.7,528.1 627.6,530.5 627.6,532.9 627.6,535.2 627.5,537.6 627.5,540 627.5,542.3 627.4,544.7 627.4,547.1 627.4,549.4 627.3,551.8 627.3,554.2 627.3,556.5 627.2,558.9 627.2,561.3 627.2,563.6 627.1,566 627.1,568.4 627.1,570.8 627.1,573.2 627.1,575.6 627.2,578 627.2,580.4 627.2,582.7 627.3,585.1 627.3,587.5 627.3,589.8 627.4,592.2 627.4,594.6 627.4,596.9 627.5,599.3 627.5,601.7 627.5,604 627.6,606.4 627.6,608.8 627.6,611.1 627.7,613.5 627.7,615.9 627.7,618.2 627.8,620.6 627.8,623 627.9,625.4 627.9,627.7 628,630.1 628,632.5 628.1,634.8 628.1,637.2 628.2,639.6 628.2,641.9 628.3,644.3 628.3,646.7 628.4,649 628.4,651.4 628.5,653.8 628.5,656.1 628.6,658.5 628.6,660.9 628.7,663.2 628.7,665.6 628.8,668 628.9,670.3 628.9,672.7 629,675.1 629,677.4 629.1,679.8 629.1,682.2 629.2,684.5 629.2,686.9 629.3,689.3 629.3,691.6 629.4,694 629.5,696.4 629.5,698.7 629.6,701.1 629.6,703.5 629.7,705.8 629.7,708.2 629.8,710.6 629.8,712.9 629.9,715.3 629.9,717.7 630,720 630,722.4 630.1,724.8 630.2,727.1 630.2,729.5 630.3,731.9 630.4,734.3 630.4,736.6 630.5,739 630.6,741.4 630.7,743.7 630.7,746.1 630.8,748.5 630.9,750.8 630.9,753.2 631,755.6 631.1,757.9 631.2,760.3 631.2,762.7 631.3,765 631.4,767.4 631.4,769.8 631.5,772.1 631.6,774.5 631.7,776.9 631.7,779.2 631.8,781.6 631.9,784 632,786.3 632,788.7 632.1,791.1 632.2,793.4 632.2,795.8 632.3,798.2 632.4,800.5 632.5,802.9 632.5,805.3 632.6,807.6 642.6,807.3 642.5,805 642.5,802.6 642.4,800.2 642.3,797.9 642.3,795.5 642.2,793.1 642.1,790.8 642.1,788.4 642,786 641.9,783.7 641.9,781.3 641.8,778.9 641.7,776.6 641.7,774.2 641.6,771.8 641.5,769.5 641.5,767.1 641.4,764.7 641.3,762.4 641.3,760 641.2,757.6 641.2,755.3 641.1,752.9 641,750.5 641,748.2 640.9,745.8 640.8,743.4 640.8,741.1 640.7,738.7 640.6,736.3 640.6,734 640.5,731.6 640.4,729.3 640.4,726.9 640.3,724.5 640.3,722.2 640.2,719.8 640.2,717.4 640.1,715.1 640.1,712.7 640,710.3 640,708 639.9,705.6 639.9,703.2 639.9,700.9 639.8,698.5 639.8,696.1 639.7,693.8 639.7,691.4 639.6,689 639.6,686.7 639.5,684.3 639.5,681.9 639.4,679.6 639.4,677.2 639.3,674.8 639.3,672.5 639.2,670.1 639.2,667.7 639.1,665.4 639.1,663 639,660.6 639,658.3 638.9,655.9 638.9,653.5 638.8,651.2 638.8,648.8 638.8,646.5 638.7,644.1 638.7,641.7 638.6,639.4 638.6,637 638.6,634.6 638.5,632.3 638.5,629.9 638.4,627.5 638.4,625.2 638.3,622.8 638.3,620.4 638.3,618.1 638.2,615.7 638.2,613.4 638.2,611 638.2,608.6 638.1,606.3 638.1,603.9 638.1,601.5 638,599.2 638,596.8 638,594.4 638,592.1 637.9,589.7 637.9,587.3 637.9,585 637.9,582.6 637.8,580.2 637.8,577.9 637.8,575.5 637.8,573.2 637.7,570.8 637.8,568.5 637.8,566.2 637.8,563.8 637.9,561.4 637.9,559.1 638,556.7 638,554.3 638,552 638.1,549.6 638.1,547.2 638.2,544.9 638.2,542.5 638.2,540.1 638.3,537.8 638.3,535.4 638.4,533 638.4,530.7 638.4,528.3 638.5,525.9 638.5,523.6 638.5,521.2 638.6,518.8 638.6,516.5 638.7,514.1 638.7,511.7 638.7,509.4 638.8,507 638.8,504.6 638.9,502.3 638.9,499.9 638.9,497.5 639,495.2 639,492.9 639.1,490.5 639.2,488.2 639.3,485.8 639.4,483.5 639.5,481.1 639.6,478.7 639.7,476.4 639.7,474 639.8,471.6 639.9,469.3 640,466.9 640.1,464.5 640.2,462.2 640.3,459.8 640.4,457.4 640.5,455.1 640.6,452.7 640.7,450.3 640.8,448 640.9,445.6 641,443.3 641.1,440.9 641.2,438.5 641.3,436.2 641.4,433.8 641.5,431.4 641.6,429.1 641.7,426.7 641.8,424.3 641.9,422 642,419.6 642.1,417.3 642.2,415.1 642.4,413 642.9,410.8 643.4,408.6 643.9,406.2 644.5,403.9 645,401.6 645.5,399.3 646.2,397.1 646.8,394.8 647.4,392.4 648.1,390.1 648.7,387.7 649.4,385.4 650,383 650.7,380.7 650.2,378.1 651.1,375.8 653.3,373.8 653.4,371.3 652.9,368.7 653.5,366.3 655.2,364.2 656.8,362.1 656.7,359.5 657.2,357.1 657.6,354.7 658,352.3 660.5,350.4 661,348 660.8,345.5 661.1,343 661.9,340.8 663.7,339.2 663.2,336.9 664.7,335.2 666.2,333.5 666.8,331 666.8,328.2 669.1,326.3 668.8,323.3 671.9,321.9 672.1,319.2 672.6,316.6 674.2,315.3 675.1,314.2 676.7,312.8 678.2,310.7 680.1,308.3 683.5,306.8 685.7,303.9 688.2,301.4 690.1,298.6 692.7,296.5 695.2,294.5 697.4,292.3 699.2,289.6 701.6,287.6 703.3,284.9 705.7,282.9 707.1,280 710,278.5 711.6,275.7 713.6,273.2 716.4,271.4 718.5,268.9 719.1,265.2 722.1,263.9 724.5,261.7 727.2,259.9 728.3,256.2 731.2,254.2 733.1,251.3 735.9,249.3 738,247 740.4,244.9 744.1,243.7 746,240.3 749.7,238.9 752.1,235.7 755.9,234.3 758.7,231.7 762.1,229.8 763.7,225.8 767.3,224.5 771.1,222.9 774.4,220.5 776.8,216.6 781.1,215.4 783.5,211.8 787.6,210.9 791.3,207.7 795.4,205.2 799.6,203 803.4,200.5 806.5,196.9 810.5,195 814.1,192.4 818.7,191.5 822,188.3 825.5,185.2 829.8,183.5 832.7,180.7 834.8,177 837.7,174.8 840.7,172.8 843.6,170.4 845.8,167.4 848.2,164.5 850.7,161.9 853.5,160 857.1,158.7 859.9,155.6 863.4,153.1 867.5,151.4 870.8,148.5 874.6,146.2 877.9,143.3 882.4,142.2 885.3,138.9 888.9,136.6 892,133.6 895.8,131.5 900,130.1 904,128.4 906.7,124.5 910.7,122.8 913.8,120.3 917.2,118.3 919.8,115.2 922.8,112.2 925.4,109.2 927.4,106.5 930.9,104.3 933.1,101.5 935,99 936.4,95.9 935.4,92.6 937.7,90.5 938.8,87.7 938,84.2 938.9,81.2 938.2,78.1 939.5,74.2 938.7,71.1 936.9,68.1 934.3,64.8 933.3,61.1 929.7,57.8 925.6,54.8 921.1,51 914.4,49 907,46.7 893.3,46.6 878.5,47.8 867.2,47.8 857.2,45.4 848.8,43.1 841.6,40.7 835,38.3 828.2,36 820.9,33.6 812.6,31.2 803.7,28.9 792.3,26.5 779.3,24.1"/>
<g fill="#00ffff"><circle cx="716" cy="22.5" r="3"/><circle cx="738" cy="22.5" r="3"/><circle cx="774" cy="27" r="3"/><circle cx="790" cy="30.5" r="3"/><circle cx="803" cy="22.5" r="3"/><circle cx="812" cy="22" r="3"/><circle cx="801" cy="35" r="3"/><circle cx="806" cy="39" r="3"/><circle cx="812" cy="41" r="3"/><circle cx="825" cy="28" r="3"/><circle cx="829" cy="42" r="3"/><circle cx="838" cy="44.5" r="3"/><circle cx="851" cy="46.5" r="3"/><circle cx="795" cy="21" r="3"/><circle cx="808" cy="33" r="3"/><circle cx="822" cy="43" r="3"/><circle cx="833" cy="41" r="3"/><circle cx="921" cy="51.5" r="3"/><circle cx="928" cy="57" r="3"/><circle cx="934" cy="66" r="3"/><circle cx="937" cy="77" r="3"/><circle cx="906" cy="47" r="3"/></g>
<polyline fill="none" stroke="#0000ff" stroke-width="2.6" stroke-linejoin="round" points="779.3,24.1 799,27.7 812.9,31.3 825.2,34.9 835.4,38.5 845.5,42.1 858,45.7 873.9,49.2 893.7,52.8 909.4,56.4 917.5,60 923,63.6 926.6,67.2 928.5,70.8 930.1,74.4 930.5,78 931,81.6 930.1,85.1 929.2,88.7 928,92.3 926.6,95.9 924.5,99.5 921.7,103.1 918.4,106.7 913.8,110.3 909.2,113.9 904.6,117.4 899.3,121 893.9,124.6 888.5,128.2 883.2,131.8 877.8,135.4 872.3,139 866.7,142.6 861.2,146.2 855.6,149.8 850.3,153.3 846,156.9 841.8,160.5 837.5,164.1 833.3,167.7 829,171.3 824.8,174.9 819.7,178.5 814.1,182.1 808.4,185.6 802.8,189.2 797.1,192.8 791.4,196.4 784.9,200 779.1,203.6 773.8,207.2 768.5,210.8 763.2,214.4 758.3,218 753.7,221.5 749.1,225.1 744.5,228.7 739.9,232.3 735.3,235.9 731.2,239.5 727.5,243.1 723.8,246.7 720,250.3 716.3,253.8 712.8,257.4 709.5,261 706.2,264.6 702.9,268.2 699.5,271.8 696.4,275.4 693.3,279 690.1,282.6 687,286.2 683.8,289.7 680.7,293.3 677.2,296.9 673.6,300.5 669.9,304.1 666.4,307.7 664.9,311.3 663.3,314.9 661.7,318.5 660.1,322 658.5,325.6 657,329.2 655.4,332.8 654.3,336.4 653.5,340 652.7,343.6 651.8,347.2 651,350.8 650.2,354.4 649.4,357.9 648.6,361.5 647.7,365.1 646.8,368.7 646,372.3 645.1,375.9 644.2,379.5 643.3,383.1 642.5,386.7 641.6,390.2 640.7,393.8 639.8,397.4 639.1,401 638.4,404.6 637.7,408.2 637,411.8 636.7,415.4 636.5,419 636.4,422.6 636.2,426.1 636.1,429.7 635.9,433.3 635.7,436.9 635.6,440.5 635.4,444.1 635.3,447.7 635.1,451.3 635,454.9 634.9,458.4 634.7,462 634.6,465.6 634.5,469.2 634.3,472.8 634.2,476.4 634.1,480 633.9,483.6 633.8,487.2 633.6,490.8 633.6,494.3 633.5,497.9 633.5,501.5 633.4,505.1 633.3,508.7 633.3,512.3 633.2,515.9 633.2,519.5 633.1,523.1 633.1,526.6 633,530.2 633,533.8 632.9,537.4 632.9,541 632.8,544.6 632.7,548.2 632.7,551.8 632.6,555.4 632.6,559 632.5,562.5 632.5,566.1 632.4,569.7 632.4,573.3 632.5,576.9 632.5,580.5 632.6,584.1 632.6,587.7 632.7,591.3 632.7,594.8 632.8,598.4 632.8,602 632.8,605.6 632.9,609.2 632.9,612.8 633,616.4 633,620 633.1,623.6 633.2,627.1 633.2,630.7 633.3,634.3 633.4,637.9 633.4,641.5 633.5,645.1 633.6,648.7 633.7,652.3 633.7,655.9 633.8,659.5 633.9,663 634,666.6 634,670.2 634.1,673.8 634.2,677.4 634.3,681 634.4,684.6 634.4,688.2 634.5,691.8 634.6,695.3 634.7,698.9 634.7,702.5 634.8,706.1 634.9,709.7 635,713.3 635,716.9 635.1,720.5 635.2,724.1 635.3,727.7 635.4,731.2 635.5,734.8 635.6,738.4 635.7,742 635.8,745.6 635.9,749.2 636,752.8 636.1,756.4 636.2,760 636.3,763.5 636.4,767.1 636.5,770.7 636.6,774.3 636.7,777.9 636.8,781.5 636.9,785.1 637.1,788.7 637.2,792.3 637.3,795.9 637.4,799.4 637.5,803 637.6,806.6 637.6,807.5"/>
<g fill="#0000ff"><circle cx="779.3" cy="24.1" r="5.9"/><circle cx="799" cy="27.7" r="5.9"/><circle cx="812.9" cy="31.3" r="5.9"/><circle cx="825.2" cy="34.9" r="5.9"/><circle cx="835.4" cy="38.5" r="5.9"/><circle cx="845.5" cy="42.1" r="5.9"/><circle cx="858" cy="45.7" r="5.9"/><circle cx="873.9" cy="49.2" r="5.9"/><circle cx="893.7" cy="52.8" r="5.9"/><circle cx="909.4" cy="56.4" r="5.9"/><circle cx="917.5" cy="60" r="5.9"/><circle cx="923" cy="63.6" r="5.9"/><circle cx="926.6" cy="67.2" r="5.9"/><circle cx="928.5" cy="70.8" r="5.9"/><circle cx="930.1" cy="74.4" r="5.9"/><circle cx="930.5" cy="78" r="5.9"/><circle cx="931" cy="81.6" r="5.9"/><circle cx="930.1" cy="85.1" r="5.9"/><circle cx="929.2" cy="88.7" r="5.9"/><circle cx="928" cy="92.3" r="5.9"/><circle cx="926.6" cy="95.9" r="5.9"/><circle cx="924.5" cy="99.5" r="5.9"/><circle cx="921.7" cy="103.1" r="5.9"/><circle cx="918.4" cy="106.7" r="5.9"/><circle cx="913.8" cy="110.3" r="5.9"/><circle cx="909.2" cy="113.9" r="5.9"/><circle cx="904.6" cy="117.4" r="5.9"/><circle cx="899.3" cy="121" r="5.9"/><circle cx="893.9" cy="124.6" r="5.9"/><circle cx="888.5" cy="128.2" r="5.9"/><circle cx="883.2" cy="131.8" r="5.9"/><circle cx="877.8" cy="135.4" r="5.9"/><circle cx="872.3" cy="139" r="5.9"/><circle cx="866.7" cy="142.6" r="5.9"/><circle cx="861.2" cy="146.2" r="5.9"/><circle cx="855.6" cy="149.8" r="5.9"/><circle cx="850.3" cy="153.3" r="5.9"/><circle cx="846" cy="156.9" r="5.9"/><circle cx="841.8" cy="160.5" r="5.9"/><circle cx="837.5" cy="164.1" r="5.9"/><circle cx="833.3" cy="167.7" r="5.9"/><circle cx="829" cy="171.3" r="5.9"/><circle cx="824.8" cy="174.9" r="5.9"/><circle cx="819.7" cy="178.5" r="5.9"/><circle cx="814.1" cy="182.1" r="5.9"/><circle cx="808.4" cy="185.6" r="5.9"/><circle cx="802.8" cy="189.2" r="5.9"/><circle cx="797.1" cy="192.8" r="5.9"/><circle cx="791.4" cy="196.4" r="5.9"/><circle cx="784.9" cy="200" r="5.9"/><circle cx="779.1" cy="203.6" r="5.9"/><circle cx="773.8" cy="207.2" r="5.9"/><circle cx="768.5" cy="210.8" r="5.9"/><circle cx="763.2" cy="214.4" r="5.9"/><circle cx="758.3" cy="218" r="5.9"/><circle cx="753.7" cy="221.5" r="5.9"/><circle cx="749.1" cy="225.1" r="5.9"/><circle cx="744.5" cy="228.7" r="5.9"/><circle cx="739.9" cy="232.3" r="5.9"/><circle cx="735.3" cy="235.9" r="5.9"/><circle cx="731.2" cy="239.5" r="5.9"/><circle cx="727.5" cy="243.1" r="5.9"/><circle cx="723.8" cy="246.7" r="5.9"/><circle cx="720" cy="250.3" r="5.9"/><circle cx="716.3" cy="253.8" r="5.9"/><circle cx="712.8" cy="257.4" r="5.9"/><circle cx="709.5" cy="261" r="5.9"/><circle cx="706.2" cy="264.6" r="5.9"/><circle cx="702.9" cy="268.2" r="5.9"/><circle cx="699.5" cy="271.8" r="5.9"/><circle cx="696.4" cy="275.4" r="5.9"/><circle cx="693.3" cy="279" r="5.9"/><circle cx="690.1" cy="282.6" r="5.9"/><circle cx="687" cy="286.2" r="5.9"/><circle cx="683.8" cy="289.7" r="5.9"/><circle cx="680.7" cy="293.3" r="5.9"/><circle cx="677.2" cy="296.9" r="5.9"/><circle cx="673.6" cy="300.5" r="5.9"/><circle cx="669.9" cy="304.1" r="5.9"/><circle cx="666.4" cy="307.7" r="5.9"/><circle cx="664.9" cy="311.3" r="5.9"/><circle cx="663.3" cy="314.9" r="5.9"/><circle cx="661.7" cy="318.5" r="5.9"/><circle cx="660.1" cy="322" r="5.9"/><circle cx="658.5" cy="325.6" r="5.9"/><circle cx="657" cy="329.2" r="5.9"/><circle cx="655.4" cy="332.8" r="5.9"/><circle cx="654.3" cy="336.4" r="5.9"/><circle cx="653.5" cy="340" r="5.9"/><circle cx="652.7" cy="343.6" r="5.9"/><circle cx="651.8" cy="347.2" r="5.9"/><circle cx="651" cy="350.8" r="5.9"/><circle cx="650.2" cy="354.4" r="5.9"/><circle cx="649.4" cy="357.9" r="5.9"/><circle cx="648.6" cy="361.5" r="5.9"/><circle cx="647.7" cy="365.1" r="5.9"/><circle cx="646.8" cy="368.7" r="5.9"/><circle cx="646" cy="372.3" r="5.9"/><circle cx="645.1" cy="375.9" r="5.9"/><circle cx="644.2" cy="379.5" r="5.9"/><circle cx="643.3" cy="383.1" r="5.9"/><circle cx="642.5" cy="386.7" r="5.9"/><circle cx="641.6" cy="390.2" r="5.9"/><circle cx="640.7" cy="393.8" r="5.9"/><circle cx="639.8" cy="397.4" r="5.9"/><circle cx="639.1" cy="401" r="5.9"/><circle cx="638.4" cy="404.6" r="5.9"/><circle cx="637.7" cy="408.2" r="5.9"/><circle cx="637" cy="411.8" r="5.9"/><circle cx="636.7" cy="415.4" r="5.9"/><circle cx="636.5" cy="419" r="5.9"/><circle cx="636.4" cy="422.6" r="5.9"/><circle cx="636.2" cy="426.1" r="5.9"/><circle cx="636.1" cy="429.7" r="5.9"/><circle cx="635.9" cy="433.3" r="5.9"/><circle cx="635.7" cy="436.9" r="5.9"/><circle cx="635.6" cy="440.5" r="5.9"/><circle cx="635.4" cy="444.1" r="5.9"/><circle cx="635.3" cy="447.7" r="5.9"/><circle cx="635.1" cy="451.3" r="5.9"/><circle cx="635" cy="454.9" r="5.9"/><circle cx="634.9" cy="458.4" r="5.9"/><circle cx="634.7" cy="462" r="5.9"/><circle cx="634.6" cy="465.6" r="5.9"/><circle cx="634.5" cy="469.2" r="5.9"/><circle cx="634.3" cy="472.8" r="5.9"/><circle cx="634.2" cy="476.4" r="5.9"/><circle cx="634.1" cy="480" r="5.9"/><circle cx="633.9" cy="483.6" r="5.9"/><circle cx="633.8" cy="487.2" r="5.9"/><circle cx="633.6" cy="490.8" r="5.9"/><circle cx="633.6" cy="494.3" r="5.9"/><circle cx="633.5" cy="497.9" r="5.9"/><circle cx="633.5" cy="501.5" r="5.9"/><circle cx="633.4" cy="505.1" r="5.9"/><circle cx="633.3" cy="508.7" r="5.9"/><circle cx="633.3" cy="512.3" r="5.9"/><circle cx="633.2" cy="515.9" r="5.9"/><circle cx="633.2" cy="519.5" r="5.9"/><circle cx="633.1" cy="523.1" r="5.9"/><circle cx="633.1" cy="526.6" r="5.9"/><circle cx="633" cy="530.2" r="5.9"/><circle cx="633" cy="533.8" r="5.9"/><circle cx="632.9" cy="537.4" r="5.9"/><circle cx="632.9" cy="541" r="5.9"/><circle cx="632.8" cy="544.6" r="5.9"/><circle cx="632.7" cy="548.2" r="5.9"/><circle cx="632.7" cy="551.8" r="5.9"/><circle cx="632.6" cy="555.4" r="5.9"/><circle cx="632.6" cy="559" r="5.9"/><circle cx="632.5" cy="562.5" r="5.9"/><circle cx="632.5" cy="566.1" r="5.9"/><circle cx="632.4" cy="569.7" r="5.9"/><circle cx="632.4" cy="573.3" r="5.9"/><circle cx="632.5" cy="576.9" r="5.9"/><circle cx="632.5" cy="580.5" r="5.9"/><circle cx="632.6" cy="584.1" r="5.9"/><circle cx="632.6" cy="587.7" r="5.9"/><circle cx="632.7" cy="591.3" r="5.9"/><circle cx="632.7" cy="594.8" r="5.9"/><circle cx="632.8" cy="598.4" r="5.9"/><circle cx="632.8" cy="602" r="5.9"/><circle cx="632.8" cy="605.6" r="5.9"/><circle cx="632.9" cy="609.2" r="5.9"/><circle cx="632.9" cy="612.8" r="5.9"/><circle cx="633" cy="616.4" r="5.9"/><circle cx="633" cy="620" r="5.9"/><circle cx="633.1" cy="623.6" r="5.9"/><circle cx="633.2" cy="627.1" r="5.9"/><circle cx="633.2" cy="630.7" r="5.9"/><circle cx="633.3" cy="634.3" r="5.9"/><circle cx="633.4" cy="637.9" r="5.9"/><circle cx="633.4" cy="641.5" r="5.9"/><circle cx="633.5" cy="645.1" r="5.9"/><circle cx="633.6" cy="648.7" r="5.9"/><circle cx="633.7" cy="652.3" r="5.9"/><circle cx="633.7" cy="655.9" r="5.9"/><circle cx="633.8" cy="659.5" r="5.9"/><circle cx="633.9" cy="663" r="5.9"/><circle cx="634" cy="666.6" r="5.9"/><circle cx="634" cy="670.2" r="5.9"/><circle cx="634.1" cy="673.8" r="5.9"/><circle cx="634.2" cy="677.4" r="5.9"/><circle cx="634.3" cy="681" r="5.9"/><circle cx="634.4" cy="684.6" r="5.9"/><circle cx="634.4" cy="688.2" r="5.9"/><circle cx="634.5" cy="691.8" r="5.9"/><circle cx="634.6" cy="695.3" r="5.9"/><circle cx="634.7" cy="698.9" r="5.9"/><circle cx="634.7" cy="702.5" r="5.9"/><circle cx="634.8" cy="706.1" r="5.9"/><circle cx="634.9" cy="709.7" r="5.9"/><circle cx="635" cy="713.3" r="5.9"/><circle cx="635" cy="716.9" r="5.9"/><circle cx="635.1" cy="720.5" r="5.9"/><circle cx="635.2" cy="724.1" r="5.9"/><circle cx="635.3" cy="727.7" r="5.9"/><circle cx="635.4" cy="731.2" r="5.9"/><circle cx="635.5" cy="734.8" r="5.9"/><circle cx="635.6" cy="738.4" r="5.9"/><circle cx="635.7" cy="742" r="5.9"/><circle cx="635.8" cy="745.6" r="5.9"/><circle cx="635.9" cy="749.2" r="5.9"/><circle cx="636" cy="752.8" r="5.9"/><circle cx="636.1" cy="756.4" r="5.9"/><circle cx="636.2" cy="760" r="5.9"/><circle cx="636.3" cy="763.5" r="5.9"/><circle cx="636.4" cy="767.1" r="5.9"/><circle cx="636.5" cy="770.7" r="5.9"/><circle cx="636.6" cy="774.3" r="5.9"/><circle cx="636.7" cy="777.9" r="5.9"/><circle cx="636.8" cy="781.5" r="5.9"/><circle cx="636.9" cy="785.1" r="5.9"/><circle cx="637.1" cy="788.7" r="5.9"/><circle cx="637.2" cy="792.3" r="5.9"/><circle cx="637.3" cy="795.9" r="5.9"/><circle cx="637.4" cy="799.4" r="5.9"/><circle cx="637.5" cy="803" r="5.9"/><circle cx="637.6" cy="806.6" r="5.9"/><circle cx="637.6" cy="807.5" r="5.9"/></g>
<g fill="#ff0000"><polygon points="833,18.6 833,20.2 835.6,20.2 835.6,18.6"/><polygon points="833,20.2 833,21.8 835.6,21.8 835.6,20.2"/><polygon points="833,21.8 833,23.3 835.6,23.3 835.6,21.8"/><polygon points="833,23.3 833,24.9 835.6,24.9 835.6,23.3"/><polygon points="833,24.9 833,26.5 835.6,26.5 835.6,24.9"/><polygon points="833,26.5 833,28.1 835.6,28.1 835.6,26.5"/><polygon points="833,28.1 833,30.4 835.6,30.4 835.6,28.1"/><polygon points="833.3,31.3 836.3,35.3 838.7,33.4 835.3,29.6"/><polygon points="836.6,35.6 841.8,39.9 844.2,36.7 838.4,33.2"/><polygon points="842.2,40.1 850.4,44.5 852.6,40 843.8,36.5"/><polygon points="850.5,44.6 859.3,49 861.7,43.5 852.5,40"/><polygon points="859,48.8 865.8,53.2 869.2,47.1 862,43.6"/><polygon points="865.1,52.7 869.1,57 874.5,51.2 869.9,47.6"/><polygon points="868,55.3 868.7,59.4 877.3,56.7 875.6,52.9"/><polygon points="868.7,59.4 870.7,67.4 880.3,64.4 877.3,56.7"/><polygon points="871.4,68.8 876.5,77 885.5,70.7 879.6,63.1"/><polygon points="876.4,76.8 881.4,84.7 890.6,78.8 885.6,70.9"/><polygon points="880.5,82.1 881,89.9 892,89.3 891.5,81.4"/><polygon points="882.6,85.7 875.1,94.1 881.9,100.9 890.4,93.5"/><polygon points="875,94.2 856.1,113.9 863.1,120.5 882,100.8"/><polygon points="856.7,113.4 831.3,133.1 837.1,140.7 862.5,121"/><polygon points="830.1,134.4 806.1,174.3 812.9,178.5 838.3,139.5"/><polygon points="806.4,173.9 774.1,212.8 781.5,218.8 812.6,178.9"/><polygon points="774,212.9 744,252.4 751.6,258.2 781.6,218.7"/><polygon points="744,252.4 714,291.8 721.6,297.6 751.6,258.2"/><polygon points="713.7,292.2 690.1,331.7 698.3,336.6 721.9,297.2"/><polygon points="689.9,332.2 653.4,411.1 662,415 698.5,336.2"/><polygon points="653.1,411.8 634,491.4 637.8,492.5 662.3,414.3"/><polygon points="633.9,491.8 628.7,570.7 631.5,570.9 637.9,492.1"/><polygon points="628.7,570.9 630.5,649.7 633.1,649.7 631.5,570.8"/><polygon points="630.5,649.8 634.4,728.7 637,728.5 633.1,649.6"/><polygon points="634.4,728.6 635.9,807.5 638.5,807.5 637,728.6"/><circle cx="834.3" cy="18.6" r="1.3"/><circle cx="834.3" cy="20.2" r="1.3"/><circle cx="834.3" cy="21.8" r="1.3"/><circle cx="834.3" cy="23.3" r="1.3"/><circle cx="834.3" cy="24.9" r="1.3"/><circle cx="834.3" cy="26.5" r="1.3"/><circle cx="834.3" cy="28.1" r="1.3"/><circle cx="834.3" cy="30.4" r="1.3"/><circle cx="837.5" cy="34.4" r="1.5"/><circle cx="843" cy="38.3" r="2"/><circle cx="851.5" cy="42.3" r="2.5"/><circle cx="860.5" cy="46.2" r="3"/><circle cx="867.5" cy="50.2" r="3.5"/><circle cx="871.8" cy="54.1" r="4"/><circle cx="873" cy="58" r="4.5"/><circle cx="875.5" cy="65.9" r="5"/><circle cx="881" cy="73.8" r="5.5"/><circle cx="886" cy="81.7" r="5.5"/><circle cx="886.5" cy="89.6" r="5.5"/><circle cx="878.5" cy="97.5" r="4.8"/><circle cx="859.6" cy="117.2" r="4.8"/><circle cx="834.2" cy="136.9" r="4.8"/><circle cx="809.5" cy="176.4" r="4"/><circle cx="777.8" cy="215.8" r="4.8"/><circle cx="747.8" cy="255.3" r="4.8"/><circle cx="717.8" cy="294.7" r="4.8"/><circle cx="694.2" cy="334.2" r="4.8"/><circle cx="657.7" cy="413" r="4.8"/><circle cx="635.9" cy="491.9" r="2"/><circle cx="630.1" cy="570.8" r="1.4"/><circle cx="631.8" cy="649.7" r="1.3"/><circle cx="635.7" cy="728.6" r="1.3"/><circle cx="637.2" cy="807.5" r="1.3"/></g>
<polyline fill="none" stroke="#ff0000" stroke-width="0.1" stroke-linejoin="round" points="834.3,18.6 834.3,20.2 834.3,21.8 834.3,23.3 834.3,24.9 834.3,26.5 834.3,28.1 834.3,30.4 837.5,34.4 843,38.3 851.5,42.3 860.5,46.2 867.5,50.2 871.8,54.1 873,58 875.5,65.9 881,73.8 886,81.7 886.5,89.6 878.5,97.5 859.6,117.2 834.2,136.9 809.5,176.4 777.8,215.8 747.8,255.3 717.8,294.7 694.2,334.2 657.7,413 635.9,491.9 630.1,570.8 631.8,649.7 635.7,728.6 637.2,807.5"/>
<g fill="#ff0000"><circle cx="834.3" cy="18.6" r="6"/><circle cx="834.3" cy="20.2" r="6"/><circle cx="834.3" cy="21.8" r="6"/><circle cx="834.3" cy="23.3" r="6"/><circle cx="834.3" cy="24.9" r="6"/><circle cx="834.3" cy="26.5" r="6"/><circle cx="834.3" cy="28.1" r="6"/><circle cx="834.3" cy="30.4" r="6"/><circle cx="837.5" cy="34.4" r="6"/><circle cx="843" cy="38.3" r="6"/><circle cx="851.5" cy="42.3" r="6"/><circle cx="860.5" cy="46.2" r="6"/><circle cx="867.5" cy="50.2" r="6"/><circle cx="871.8" cy="54.1" r="6"/><circle cx="873" cy="58" r="6"/><circle cx="875.5" cy="65.9" r="6"/><circle cx="881" cy="73.8" r="6"/><circle cx="886" cy="81.7" r="6"/><circle cx="886.5" cy="89.6" r="6"/><circle cx="878.5" cy="97.5" r="6"/><circle cx="859.6" cy="117.2" r="6"/><circle cx="834.2" cy="136.9" r="6"/><circle cx="809.5" cy="176.4" r="6"/><circle cx="777.8" cy="215.8" r="6"/><circle cx="747.8" cy="255.3" r="6"/><circle cx="717.8" cy="294.7" r="6"/><circle cx="694.2" cy="334.2" r="6"/><circle cx="657.7" cy="413" r="6"/><circle cx="635.9" cy="491.9" r="6"/><circle cx="630.1" cy="570.8" r="6"/><circle cx="631.8" cy="649.7" r="6"/><circle cx="635.7" cy="728.6" r="6"/><circle cx="637.2" cy="807.5" r="6"/></g>
<polyline fill="none" stroke="#008000" stroke-width="2.6" stroke-linejoin="round" points="837.2,18.6 837.2,20.2 837.2,21.8 837.2,23.3 837.2,24.9 837.2,26.5 837.2,28.1 838.6,30.4 848.3,34.4 859.2,38.3 869.5,42.3 881.7,46.2 892.6,50.2 906.7,54.1 912.5,58 923.4,65.9 925.4,73.8 916.3,81.7 905.1,89.6 896.6,97.5 878.4,117.2 861.3,136.9 817.5,176.4 766.6,215.8 708.7,255.3 670.7,294.7 659.3,334.2 666.9,413 656.6,491.9 636.5,570.8 625.3,649.7 628.6,728.6 630.5,807.5"/>
<g fill="#008000"><circle cx="837.2" cy="18.6" r="6"/><circle cx="837.2" cy="20.2" r="6"/><circle cx="837.2" cy="21.8" r="6"/><circle cx="837.2" cy="23.3" r="6"/><circle cx="837.2" cy="24.9" r="6"/><circle cx="837.2" cy="26.5" r="6"/><circle cx="837.2" cy="28.1" r="6"/><circle cx="838.6" cy="30.4" r="6"/><circle cx="848.3" cy="34.4" r="6"/><circle cx="859.2" cy="38.3" r="6"/><circle cx="869.5" cy="42.3" r="6"/><circle cx="881.7" cy="46.2" r="6"/><circle cx="892.6" cy="50.2" r="6"/><circle cx="906.7" cy="54.1" r="6"/><circle cx="912.5" cy="58" r="6"/><circle cx="923.4" cy="65.9" r="6"/><circle cx="925.4" cy="73.8" r="6"/><circle cx="916.3" cy="81.7" r="6"/><circle cx="905.1" cy="89.6" r="6"/><circle cx="896.6" cy="97.5" r="6"/><circle cx="878.4" cy="117.2" r="6"/><circle cx="861.3" cy="136.9" r="6"/><circle cx="817.5" cy="176.4" r="6"/><circle cx="766.6" cy="215.8" r="6"/><circle cx="708.7" cy="255.3" r="6"/><circle cx="670.7" cy="294.7" r="6"/><circle cx="659.3" cy="334.2" r="6"/><circle cx="666.9" cy="413" r="6"/><circle cx="656.6" cy="491.9" r="6"/><circle cx="636.5" cy="570.8" r="6"/><circle cx="625.3" cy="649.7" r="6"/><circle cx="628.6" cy="728.6" r="6"/><circle cx="630.5" cy="807.5" r="6"/></g>
<polyline fill="none" stroke="#ff00ff" stroke-width="2.6" stroke-linejoin="round" points="842,19 842,19.8 842.2,20.7 842.5,21.6 843,22.6 843.8,23.7 845,24.9 846.5,26.1 848.5,27.6 852.5,29.2 856.5,31.1 859.8,33.2 876.5,35.6 883.3,38.5 895.8,41.8 896.4,45.7 896.3,50.4 896.1,56 898.4,62.6 902.9,70.5 908.8,80.1 914.9,91.4 922.6,105.1 925.5,121.7 907.5,141.6 869.6,165.4 830.7,194.1 787.6,228.4 749.6,269.5 713.7,318.5 678.6,376.7 651.3,445.5 633.2,526.3 627.5,620.8 631.4,730.4"/>
<g fill="#ff00ff"><circle cx="842" cy="19" r="6"/><circle cx="842" cy="19.8" r="6"/><circle cx="842.2" cy="20.7" r="6"/><circle cx="842.5" cy="21.6" r="6"/><circle cx="843" cy="22.6" r="6"/><circle cx="843.8" cy="23.7" r="6"/><circle cx="845" cy="24.9" r="6"/><circle cx="846.5" cy="26.1" r="6"/><circle cx="848.5" cy="27.6" r="6"/><circle cx="852.5" cy="29.2" r="6"/><circle cx="856.5" cy="31.1" r="6"/><circle cx="859.8" cy="33.2" r="6"/><circle cx="876.5" cy="35.6" r="6"/><circle cx="883.3" cy="38.5" r="6"/><circle cx="895.8" cy="41.8" r="6"/><circle cx="896.4" cy="45.7" r="6"/><circle cx="896.3" cy="50.4" r="6"/><circle cx="896.1" cy="56" r="6"/><circle cx="898.4" cy="62.6" r="6"/><circle cx="902.9" cy="70.5" r="6"/><circle cx="908.8" cy="80.1" r="6"/><circle cx="914.9" cy="91.4" r="6"/><circle cx="922.6" cy="105.1" r="6"/><circle cx="925.5" cy="121.7" r="6"/><circle cx="907.5" cy="141.6" r="6"/><circle cx="869.6" cy="165.4" r="6"/><circle cx="830.7" cy="194.1" r="6"/><circle cx="787.6" cy="228.4" r="6"/><circle cx="749.6" cy="269.5" r="6"/><circle cx="713.7" cy="318.5" r="6"/><circle cx="678.6" cy="376.7" r="6"/><circle cx="651.3" cy="445.5" r="6"/><circle cx="633.2" cy="526.3" r="6"/><circle cx="627.5" cy="620.8" r="6"/><circle cx="631.4" cy="730.4" r="6"/></g>
</g>
<rect x="583.5" y="19.5" width="394" height="795" fill="none" stroke="#000" stroke-width="1.4"/>
<g stroke="#000" stroke-width="1.4">
<line x1="646.5" y1="814.5" x2="646.5" y2="820.5"/>
<line x1="731.5" y1="814.5" x2="731.5" y2="820.5"/>
<line x1="815.5" y1="814.5" x2="815.5" y2="820.5"/>
<line x1="900.5" y1="814.5" x2="900.5" y2="820.5"/>
<line x1="577.5" y1="19.5" x2="583.5" y2="19.5"/>
<line x1="577.5" y1="97.5" x2="583.5" y2="97.5"/>
<line x1="577.5" y1="176.5" x2="583.5" y2="176.5"/>
<line x1="577.5" y1="255.5" x2="583.5" y2="255.5"/>
<line x1="577.5" y1="334.5" x2="583.5" y2="334.5"/>
<line x1="577.5" y1="413.5" x2="583.5" y2="413.5"/>
<line x1="577.5" y1="491.5" x2="583.5" y2="491.5"/>
<line x1="577.5" y1="570.5" x2="583.5" y2="570.5"/>
<line x1="577.5" y1="649.5" x2="583.5" y2="649.5"/>
<line x1="577.5" y1="728.5" x2="583.5" y2="728.5"/>
<line x1="577.5" y1="807.5" x2="583.5" y2="807.5"/>
</g>
<g font-size="17.2" fill="#000">
<text x="646.5" y="842.3" text-anchor="middle">35.0</text>
<text x="731.5" y="842.3" text-anchor="middle">35.5</text>
<text x="815.5" y="842.3" text-anchor="middle">36.0</text>
<text x="900.5" y="842.3" text-anchor="middle">36.5</text>
</g>
</g>
<g id="panel3">
<g stroke="#b0b0b0" stroke-width="0.9" stroke-dasharray="3.25 1.4" fill="none">
<line x1="1072.5" y1="19.5" x2="1072.5" y2="814.5"/>
<line x1="1144.5" y1="19.5" x2="1144.5" y2="814.5"/>
<line x1="1216.5" y1="19.5" x2="1216.5" y2="814.5"/>
<line x1="1288.5" y1="19.5" x2="1288.5" y2="814.5"/>
<line x1="1360.5" y1="19.5" x2="1360.5" y2="814.5"/>
<line x1="1432.5" y1="19.5" x2="1432.5" y2="814.5"/>
<line x1="1067.5" y1="97.5" x2="1461.5" y2="97.5"/>
<line x1="1067.5" y1="176.5" x2="1461.5" y2="176.5"/>
<line x1="1067.5" y1="255.5" x2="1461.5" y2="255.5"/>
<line x1="1067.5" y1="334.5" x2="1461.5" y2="334.5"/>
<line x1="1067.5" y1="413.5" x2="1461.5" y2="413.5"/>
<line x1="1067.5" y1="491.5" x2="1461.5" y2="491.5"/>
<line x1="1067.5" y1="570.5" x2="1461.5" y2="570.5"/>
<line x1="1067.5" y1="649.5" x2="1461.5" y2="649.5"/>
<line x1="1067.5" y1="728.5" x2="1461.5" y2="728.5"/>
<line x1="1067.5" y1="807.5" x2="1461.5" y2="807.5"/>
</g>
<clipPath id="clip2"><rect x="1067.5" y="19.5" width="394" height="795"/></clipPath>
<g clip-path="url(#clip2)">
<polygon fill="#00ffff" stroke="#00ffff" stroke-width="1" stroke-linejoin="round" points="1081.7,26.1 1081.9,28.8 1082.6,31.5 1085,34.3 1086.9,37.4 1089.3,41.5 1092.7,44.4 1096.9,48.3 1102.2,50.7 1108,53 1114.6,55.4 1121.3,58.1 1129.7,59.1 1137.4,61.8 1145.5,63.2 1151.9,67 1158.8,68.1 1165.4,70.1 1171.6,72.3 1176.9,74.6 1182.1,76.8 1187.5,79.1 1191.9,81.4 1196.3,83.7 1200.7,86 1204.7,88.2 1208.6,90.5 1212.4,92.8 1216.2,95.1 1219.8,97.4 1223.2,99.6 1226.6,101.8 1228.8,104 1230.8,106 1233.1,108.2 1234.9,110.4 1236.4,112.6 1238.1,114.9 1239.8,117.3 1241.5,119.7 1243.3,122.1 1245.1,124.4 1246.8,126.8 1248.6,129.2 1250.4,131.6 1252.2,133.9 1253.9,136.2 1255.5,138.3 1256.8,140.3 1257.5,142.4 1258.4,144.5 1259.3,146.8 1260.2,149.2 1261.2,151.6 1262.1,153.9 1263,156.3 1264,158.7 1264.9,161 1265.8,163.4 1266.7,165.8 1267.7,168.1 1268.6,170.5 1269.5,172.9 1270.4,175.1 1271.3,177.4 1272.1,179.6 1272.7,181.9 1273.3,184.2 1274,186.5 1274.7,188.9 1275.4,191.3 1276,193.6 1276.7,196 1277.4,198.4 1278.1,200.7 1278.7,203.1 1279.4,205.5 1280.2,208.3 1281.1,211 1282.7,213.7 1284.3,216.1 1285.6,218.2 1286.3,220.3 1287,222.3 1287.8,224.7 1288.6,227 1289.4,229.4 1290.2,231.8 1291,234.1 1291.9,236.5 1292.7,238.9 1293.5,241.2 1294.3,243.6 1295.1,246 1295.9,248.3 1296.7,250.7 1297.5,253.1 1298.3,255.4 1299.1,257.7 1299.8,260 1300.5,262.4 1301.2,264.7 1302,267.1 1302.7,269.5 1303.4,271.8 1304.1,274.2 1304.8,276.6 1305.6,278.9 1306.3,281.3 1307,283.7 1307.7,286 1308.5,288.4 1309.2,290.8 1309.9,293.1 1310.6,295.5 1311.3,297.9 1312.1,300.2 1312.8,302.6 1313.5,305 1314.2,307.3 1314.9,309.7 1315.7,312 1316.4,314.4 1317.1,316.8 1317.8,319.1 1318.6,321.5 1319.3,323.9 1320,326.2 1320.7,328.6 1321.4,331 1322.1,333.3 1322.9,335.6 1323.4,337.9 1324,340.2 1324.6,342.6 1325.2,344.9 1325.8,347.3 1326.4,349.7 1327,352 1327.6,354.4 1328.2,356.8 1328.8,359.1 1329.4,361.5 1330,363.9 1330.6,366.2 1331.2,368.6 1331.8,371 1332.4,373.3 1333,375.7 1333.6,378.1 1334.3,380.4 1334.9,382.8 1335.5,385.2 1336.1,387.5 1336.7,389.9 1337.3,392.3 1337.9,394.6 1338.5,397 1339.1,399.4 1339.7,401.7 1340.3,404.1 1340.9,406.5 1341.5,408.8 1342.1,411.2 1342.7,413.6 1343.3,415.9 1343.9,418.3 1344.5,420.7 1345.1,423 1345.7,425.4 1346.3,427.8 1346.9,430.1 1347.5,432.5 1348.1,434.9 1348.7,437.2 1349.3,439.6 1349.9,442 1350.5,444.3 1351.1,446.7 1351.7,449 1352.3,451.4 1352.9,453.8 1353.5,456.1 1354.1,458.5 1354.7,460.9 1355.3,463.2 1355.9,465.6 1356.5,468 1357.1,470.3 1357.7,472.7 1358.3,475.1 1358.9,477.4 1359.5,479.8 1360.1,482.2 1360.7,484.5 1361.3,486.9 1361.9,489.3 1362.5,491.6 1363.1,494 1363.7,496.4 1364.3,498.7 1364.9,501.1 1365.5,503.5 1366.1,505.8 1366.7,508.2 1367.3,510.6 1367.9,512.9 1368.5,515.3 1369.1,517.7 1369.7,520 1370.4,522.4 1371,524.8 1371.6,527.1 1372.2,529.5 1372.8,531.9 1373.4,534.2 1374,536.6 1374.6,539 1375.2,541.3 1375.8,543.7 1376.4,546.1 1377,548.4 1377.6,550.8 1378.2,553.2 1378.8,555.5 1379.4,557.9 1380,560.3 1380.6,562.6 1381.2,565 1381.8,567.4 1382.4,569.7 1383,572 1383.5,574.4 1384,576.7 1384.5,579 1385.1,581.4 1385.6,583.8 1386.1,586.1 1386.7,588.5 1387.2,590.9 1387.7,593.2 1388.2,595.6 1388.8,598 1389.3,600.3 1389.8,602.7 1390.4,605.1 1390.9,607.4 1391.4,609.8 1392,612.2 1392.5,614.5 1393,616.9 1393.5,619.3 1394.1,621.6 1394.6,624 1395.1,626.4 1395.7,628.7 1396.2,631.1 1396.7,633.5 1397.3,635.8 1397.8,638.2 1398.3,640.6 1398.8,642.9 1399.4,645.3 1399.9,647.7 1400.4,650.1 1401,652.5 1401.6,654.9 1402.2,657.3 1402.8,659.6 1403.4,662 1404,664.4 1404.6,666.7 1405.2,669.1 1405.8,671.5 1406.4,673.8 1407,676.2 1407.6,678.6 1408.2,680.9 1408.8,683.3 1409.4,685.7 1410,688 1410.6,690.4 1411.2,692.8 1411.8,695.1 1412.4,697.5 1412.9,699.9 1413.5,702.2 1414.1,704.6 1414.7,707 1415.3,709.3 1415.9,711.7 1416.5,714.1 1417.1,716.4 1417.7,718.8 1418.3,721.2 1418.9,723.5 1419.5,725.9 1420.1,728.2 1420.6,730.5 1421.1,732.8 1421.6,735.2 1422.1,737.5 1422.6,739.9 1423.1,742.3 1423.6,744.6 1424.1,747 1424.6,749.4 1425.1,751.7 1425.6,754.1 1426.1,756.5 1426.6,758.8 1427.1,761.2 1427.6,763.6 1428.1,765.9 1428.6,768.3 1429.1,770.7 1429.6,773 1430.1,775.4 1430.6,777.8 1431.1,780.1 1431.6,782.5 1432.1,784.9 1432.6,787.2 1433.1,789.6 1433.6,792 1434.1,794.3 1434.6,796.7 1435.1,799.1 1435.6,801.4 1436.1,803.8 1436.6,806.2 1437.1,808.5 1446.9,806.5 1446.4,804.1 1445.9,801.7 1445.4,799.4 1444.9,797 1444.4,794.6 1443.9,792.3 1443.4,789.9 1442.9,787.5 1442.4,785.2 1441.9,782.8 1441.4,780.4 1440.9,778.1 1440.4,775.7 1439.9,773.3 1439.4,771 1439,768.6 1438.5,766.2 1438,763.9 1437.5,761.5 1437,759.1 1436.5,756.8 1436,754.4 1435.5,752 1435,749.7 1434.5,747.3 1434,744.9 1433.5,742.6 1433,740.2 1432.5,737.8 1432,735.4 1431.5,733.1 1431,730.7 1430.5,728.3 1429.9,725.9 1429.3,723.4 1428.7,721.1 1428.1,718.7 1427.5,716.3 1426.9,714 1426.4,711.6 1425.8,709.2 1425.2,706.9 1424.6,704.5 1424,702.1 1423.4,699.8 1422.8,697.4 1422.2,695 1421.6,692.7 1421,690.3 1420.4,687.9 1419.8,685.6 1419.2,683.2 1418.7,680.8 1418.1,678.4 1417.5,676.1 1416.9,673.7 1416.3,671.3 1415.7,669 1415.1,666.6 1414.5,664.2 1413.9,661.9 1413.3,659.5 1412.7,657.1 1412.1,654.8 1411.6,652.4 1411,650.1 1410.4,647.8 1409.9,645.4 1409.4,643.1 1408.8,640.7 1408.3,638.3 1407.8,636 1407.3,633.6 1406.7,631.2 1406.2,628.9 1405.7,626.5 1405.2,624.1 1404.6,621.8 1404.1,619.4 1403.6,617 1403,614.7 1402.5,612.3 1402,609.9 1401.5,607.6 1400.9,605.2 1400.4,602.8 1399.9,600.5 1399.4,598.1 1398.8,595.7 1398.3,593.4 1397.8,591 1397.3,588.6 1396.7,586.3 1396.2,583.9 1395.7,581.5 1395.2,579.2 1394.6,576.8 1394.1,574.4 1393.6,572 1393,569.6 1392.4,567.2 1391.8,564.8 1391.2,562.5 1390.6,560.1 1390,557.7 1389.4,555.3 1388.8,553 1388.2,550.6 1387.6,548.2 1387,545.9 1386.4,543.5 1385.8,541.1 1385.2,538.8 1384.6,536.4 1384,534 1383.4,531.7 1382.8,529.3 1382.2,526.9 1381.6,524.6 1381,522.2 1380.4,519.8 1379.9,517.5 1379.3,515.1 1378.7,512.7 1378.1,510.4 1377.5,508 1376.9,505.6 1376.3,503.3 1375.7,500.9 1375.1,498.5 1374.5,496.2 1373.9,493.8 1373.3,491.4 1372.7,489.1 1372.1,486.7 1371.5,484.3 1370.9,482 1370.3,479.6 1369.7,477.2 1369.1,474.9 1368.5,472.5 1367.9,470.1 1367.3,467.8 1366.7,465.4 1366.1,463 1365.5,460.7 1364.9,458.3 1364.3,455.9 1363.7,453.6 1363.1,451.2 1362.5,448.8 1361.9,446.5 1361.3,444.1 1360.7,441.7 1360.1,439.4 1359.5,437 1358.9,434.6 1358.3,432.3 1357.7,429.9 1357.1,427.5 1356.5,425.2 1355.9,422.8 1355.3,420.4 1354.7,418.1 1354.1,415.7 1353.5,413.3 1352.9,411 1352.3,408.6 1351.7,406.2 1351.1,403.9 1350.5,401.5 1349.9,399.1 1349.3,396.8 1348.7,394.4 1348.1,392 1347.5,389.7 1346.9,387.3 1346.3,384.9 1345.7,382.6 1345.1,380.2 1344.5,377.8 1344,375.5 1343.4,373.1 1342.8,370.7 1342.2,368.3 1341.6,366 1341,363.6 1340.4,361.2 1339.8,358.9 1339.2,356.5 1338.6,354.1 1338,351.8 1337.4,349.4 1336.8,347 1336.2,344.7 1335.6,342.3 1335,339.9 1334.4,337.6 1333.8,335.1 1333.1,332.7 1332.4,330.3 1331.7,327.9 1331,325.5 1330.2,323.1 1329.5,320.8 1328.8,318.4 1328.1,316 1327.4,313.7 1326.6,311.3 1325.9,308.9 1325.2,306.6 1324.5,304.2 1323.8,301.8 1323.1,299.5 1322.3,297.1 1321.6,294.7 1320.9,292.4 1320.2,290 1319.5,287.6 1318.7,285.3 1318,282.9 1317.3,280.5 1316.6,278.2 1315.9,275.8 1315.2,273.4 1314.4,271.1 1313.7,268.7 1313,266.3 1312.3,264 1311.6,261.6 1310.8,259.2 1310.1,256.8 1309.4,254.4 1308.6,252 1307.8,249.6 1307,247.2 1306.1,244.8 1305.3,242.5 1304.5,240.1 1303.7,237.7 1302.9,235.4 1302.1,233 1301.3,230.6 1300.5,228.3 1299.7,225.9 1298.9,223.5 1298.1,221.2 1297.3,218.8 1296.3,216.1 1295.4,213.4 1293.7,210.8 1292.3,208.5 1290.9,206.5 1290.4,204.5 1289.9,202.5 1289.2,200.1 1288.5,197.8 1287.9,195.4 1287.2,193 1286.5,190.7 1285.9,188.3 1285.2,185.9 1284.5,183.6 1283.8,181.2 1283.2,178.8 1282.4,176.3 1281.6,173.8 1280.7,171.3 1279.7,168.9 1278.8,166.5 1277.9,164.1 1276.9,161.8 1276,159.4 1275.1,157 1274.1,154.7 1273.2,152.3 1272.3,149.9 1271.4,147.6 1270.4,145.2 1269.5,142.8 1268.6,140.4 1267.5,137.8 1266.4,135.1 1264.8,132.4 1262.8,129.8 1261,127.3 1259.2,125 1257.4,122.6 1255.6,120.2 1253.9,117.9 1252.2,115.4 1250.6,113 1249.1,110.6 1247.5,108.1 1245.9,105.6 1244.1,102.9 1242.1,100.2 1238.8,98.4 1237.5,94.1 1234.2,92.2 1230.2,89.8 1226.8,86.6 1222.3,85.5 1219.3,81.7 1214.4,80.9 1210.9,77.6 1206.7,75.3 1202,72.9 1197.3,70.5 1192.7,68.2 1187.2,65.8 1181.6,63.5 1176,61.1 1169.7,58.8 1162.9,56.6 1156.2,54.3 1149.1,52.1 1141.2,49.8 1133.3,47.6 1125.6,45.4 1119.1,43.1 1113.1,40.8 1107.9,38.5 1103.7,36.3 1099.9,34.3 1098.1,32.4 1096.7,30.8 1095.9,29 1095.3,27.3 1094.8,25.1 1094.2,22.9"/>
<g fill="#00ffff"><circle cx="1084" cy="24" r="3"/><circle cx="1090" cy="37" r="3"/><circle cx="1096" cy="43" r="3"/><circle cx="1104" cy="48" r="3"/><circle cx="1113" cy="52" r="3"/></g>
<polyline fill="none" stroke="#0000ff" stroke-width="2.6" stroke-linejoin="round" points="1089.4,24.1 1090.3,27.7 1091.4,31.3 1093.5,34.9 1097.3,38.5 1103.7,42.1 1111.7,45.7 1121.5,49.2 1132.8,52.8 1144.7,56.4 1155.5,60 1165.5,63.6 1174.9,67.2 1183.1,70.8 1191,74.4 1197.9,78 1204.7,81.6 1210.7,85.1 1216.6,88.7 1222.1,92.3 1227.6,95.9 1232,99.5 1235.7,103.1 1238.9,106.7 1241.5,110.3 1244.1,113.9 1246.7,117.4 1249.4,121 1252.1,124.6 1254.8,128.2 1257.5,131.8 1260.1,135.4 1262.1,139 1263.5,142.6 1264.9,146.2 1266.3,149.8 1267.7,153.3 1269.2,156.9 1270.6,160.5 1272,164.1 1273.4,167.7 1274.8,171.3 1276.2,174.9 1277.4,178.5 1278.4,182.1 1279.4,185.6 1280.5,189.2 1281.5,192.8 1282.5,196.4 1283.5,200 1284.5,203.6 1285.6,207.2 1287.3,210.8 1289.6,214.4 1291.2,218 1292.5,221.5 1293.7,225.1 1294.9,228.7 1296.1,232.3 1297.4,235.9 1298.6,239.5 1299.8,243.1 1301.1,246.7 1302.3,250.3 1303.5,253.8 1304.7,257.4 1305.8,261 1306.8,264.6 1307.9,268.2 1309,271.8 1310.1,275.4 1311.2,279 1312.3,282.6 1313.4,286.2 1314.5,289.7 1315.6,293.3 1316.7,296.9 1317.8,300.5 1318.9,304.1 1319.9,307.7 1321,311.3 1322.1,314.9 1323.2,318.5 1324.3,322 1325.4,325.6 1326.5,329.2 1327.6,332.8 1328.6,336.4 1329.5,340 1330.4,343.6 1331.3,347.2 1332.2,350.8 1333.1,354.4 1334,357.9 1334.9,361.5 1335.9,365.1 1336.8,368.7 1337.7,372.3 1338.6,375.9 1339.5,379.5 1340.4,383.1 1341.3,386.7 1342.2,390.2 1343.1,393.8 1344,397.4 1345,401 1345.9,404.6 1346.8,408.2 1347.7,411.8 1348.6,415.4 1349.5,419 1350.4,422.6 1351.3,426.1 1352.2,429.7 1353.1,433.3 1354.1,436.9 1355,440.5 1355.9,444.1 1356.8,447.7 1357.7,451.3 1358.6,454.9 1359.5,458.4 1360.4,462 1361.3,465.6 1362.2,469.2 1363.2,472.8 1364.1,476.4 1365,480 1365.9,483.6 1366.8,487.2 1367.7,490.8 1368.6,494.3 1369.5,497.9 1370.4,501.5 1371.3,505.1 1372.2,508.7 1373.2,512.3 1374.1,515.9 1375,519.5 1375.9,523.1 1376.8,526.6 1377.7,530.2 1378.6,533.8 1379.5,537.4 1380.4,541 1381.3,544.6 1382.3,548.2 1383.2,551.8 1384.1,555.4 1385,559 1385.9,562.5 1386.8,566.1 1387.7,569.7 1388.6,573.3 1389.4,576.9 1390.2,580.5 1391,584.1 1391.8,587.7 1392.6,591.3 1393.4,594.8 1394.2,598.4 1395,602 1395.8,605.6 1396.6,609.2 1397.4,612.8 1398.2,616.4 1399,620 1399.8,623.6 1400.6,627.1 1401.4,630.7 1402.2,634.3 1403,637.9 1403.8,641.5 1404.6,645.1 1405.4,648.7 1406.2,652.3 1407.1,655.9 1408,659.5 1408.9,663 1409.8,666.6 1410.7,670.2 1411.6,673.8 1412.5,677.4 1413.5,681 1414.4,684.6 1415.3,688.2 1416.2,691.8 1417.1,695.3 1418,698.9 1418.9,702.5 1419.8,706.1 1420.7,709.7 1421.6,713.3 1422.5,716.9 1423.4,720.5 1424.3,724.1 1425.2,727.7 1426,731.2 1426.7,734.8 1427.5,738.4 1428.2,742 1429,745.6 1429.7,749.2 1430.5,752.8 1431.2,756.4 1432,760 1432.8,763.5 1433.5,767.1 1434.3,770.7 1435,774.3 1435.8,777.9 1436.5,781.5 1437.3,785.1 1438,788.7 1438.8,792.3 1439.6,795.9 1440.3,799.4 1441.1,803 1441.8,806.6 1442,807.5"/>
<g fill="#0000ff"><circle cx="1089.4" cy="24.1" r="5.9"/><circle cx="1090.3" cy="27.7" r="5.9"/><circle cx="1091.4" cy="31.3" r="5.9"/><circle cx="1093.5" cy="34.9" r="5.9"/><circle cx="1097.3" cy="38.5" r="5.9"/><circle cx="1103.7" cy="42.1" r="5.9"/><circle cx="1111.7" cy="45.7" r="5.9"/><circle cx="1121.5" cy="49.2" r="5.9"/><circle cx="1132.8" cy="52.8" r="5.9"/><circle cx="1144.7" cy="56.4" r="5.9"/><circle cx="1155.5" cy="60" r="5.9"/><circle cx="1165.5" cy="63.6" r="5.9"/><circle cx="1174.9" cy="67.2" r="5.9"/><circle cx="1183.1" cy="70.8" r="5.9"/><circle cx="1191" cy="74.4" r="5.9"/><circle cx="1197.9" cy="78" r="5.9"/><circle cx="1204.7" cy="81.6" r="5.9"/><circle cx="1210.7" cy="85.1" r="5.9"/><circle cx="1216.6" cy="88.7" r="5.9"/><circle cx="1222.1" cy="92.3" r="5.9"/><circle cx="1227.6" cy="95.9" r="5.9"/><circle cx="1232" cy="99.5" r="5.9"/><circle cx="1235.7" cy="103.1" r="5.9"/><circle cx="1238.9" cy="106.7" r="5.9"/><circle cx="1241.5" cy="110.3" r="5.9"/><circle cx="1244.1" cy="113.9" r="5.9"/><circle cx="1246.7" cy="117.4" r="5.9"/><circle cx="1249.4" cy="121" r="5.9"/><circle cx="1252.1" cy="124.6" r="5.9"/><circle cx="1254.8" cy="128.2" r="5.9"/><circle cx="1257.5" cy="131.8" r="5.9"/><circle cx="1260.1" cy="135.4" r="5.9"/><circle cx="1262.1" cy="139" r="5.9"/><circle cx="1263.5" cy="142.6" r="5.9"/><circle cx="1264.9" cy="146.2" r="5.9"/><circle cx="1266.3" cy="149.8" r="5.9"/><circle cx="1267.7" cy="153.3" r="5.9"/><circle cx="1269.2" cy="156.9" r="5.9"/><circle cx="1270.6" cy="160.5" r="5.9"/><circle cx="1272" cy="164.1" r="5.9"/><circle cx="1273.4" cy="167.7" r="5.9"/><circle cx="1274.8" cy="171.3" r="5.9"/><circle cx="1276.2" cy="174.9" r="5.9"/><circle cx="1277.4" cy="178.5" r="5.9"/><circle cx="1278.4" cy="182.1" r="5.9"/><circle cx="1279.4" cy="185.6" r="5.9"/><circle cx="1280.5" cy="189.2" r="5.9"/><circle cx="1281.5" cy="192.8" r="5.9"/><circle cx="1282.5" cy="196.4" r="5.9"/><circle cx="1283.5" cy="200" r="5.9"/><circle cx="1284.5" cy="203.6" r="5.9"/><circle cx="1285.6" cy="207.2" r="5.9"/><circle cx="1287.3" cy="210.8" r="5.9"/><circle cx="1289.6" cy="214.4" r="5.9"/><circle cx="1291.2" cy="218" r="5.9"/><circle cx="1292.5" cy="221.5" r="5.9"/><circle cx="1293.7" cy="225.1" r="5.9"/><circle cx="1294.9" cy="228.7" r="5.9"/><circle cx="1296.1" cy="232.3" r="5.9"/><circle cx="1297.4" cy="235.9" r="5.9"/><circle cx="1298.6" cy="239.5" r="5.9"/><circle cx="1299.8" cy="243.1" r="5.9"/><circle cx="1301.1" cy="246.7" r="5.9"/><circle cx="1302.3" cy="250.3" r="5.9"/><circle cx="1303.5" cy="253.8" r="5.9"/><circle cx="1304.7" cy="257.4" r="5.9"/><circle cx="1305.8" cy="261" r="5.9"/><circle cx="1306.8" cy="264.6" r="5.9"/><circle cx="1307.9" cy="268.2" r="5.9"/><circle cx="1309" cy="271.8" r="5.9"/><circle cx="1310.1" cy="275.4" r="5.9"/><circle cx="1311.2" cy="279" r="5.9"/><circle cx="1312.3" cy="282.6" r="5.9"/><circle cx="1313.4" cy="286.2" r="5.9"/><circle cx="1314.5" cy="289.7" r="5.9"/><circle cx="1315.6" cy="293.3" r="5.9"/><circle cx="1316.7" cy="296.9" r="5.9"/><circle cx="1317.8" cy="300.5" r="5.9"/><circle cx="1318.9" cy="304.1" r="5.9"/><circle cx="1319.9" cy="307.7" r="5.9"/><circle cx="1321" cy="311.3" r="5.9"/><circle cx="1322.1" cy="314.9" r="5.9"/><circle cx="1323.2" cy="318.5" r="5.9"/><circle cx="1324.3" cy="322" r="5.9"/><circle cx="1325.4" cy="325.6" r="5.9"/><circle cx="1326.5" cy="329.2" r="5.9"/><circle cx="1327.6" cy="332.8" r="5.9"/><circle cx="1328.6" cy="336.4" r="5.9"/><circle cx="1329.5" cy="340" r="5.9"/><circle cx="1330.4" cy="343.6" r="5.9"/><circle cx="1331.3" cy="347.2" r="5.9"/><circle cx="1332.2" cy="350.8" r="5.9"/><circle cx="1333.1" cy="354.4" r="5.9"/><circle cx="1334" cy="357.9" r="5.9"/><circle cx="1334.9" cy="361.5" r="5.9"/><circle cx="1335.9" cy="365.1" r="5.9"/><circle cx="1336.8" cy="368.7" r="5.9"/><circle cx="1337.7" cy="372.3" r="5.9"/><circle cx="1338.6" cy="375.9" r="5.9"/><circle cx="1339.5" cy="379.5" r="5.9"/><circle cx="1340.4" cy="383.1" r="5.9"/><circle cx="1341.3" cy="386.7" r="5.9"/><circle cx="1342.2" cy="390.2" r="5.9"/><circle cx="1343.1" cy="393.8" r="5.9"/><circle cx="1344" cy="397.4" r="5.9"/><circle cx="1345" cy="401" r="5.9"/><circle cx="1345.9" cy="404.6" r="5.9"/><circle cx="1346.8" cy="408.2" r="5.9"/><circle cx="1347.7" cy="411.8" r="5.9"/><circle cx="1348.6" cy="415.4" r="5.9"/><circle cx="1349.5" cy="419" r="5.9"/><circle cx="1350.4" cy="422.6" r="5.9"/><circle cx="1351.3" cy="426.1" r="5.9"/><circle cx="1352.2" cy="429.7" r="5.9"/><circle cx="1353.1" cy="433.3" r="5.9"/><circle cx="1354.1" cy="436.9" r="5.9"/><circle cx="1355" cy="440.5" r="5.9"/><circle cx="1355.9" cy="444.1" r="5.9"/><circle cx="1356.8" cy="447.7" r="5.9"/><circle cx="1357.7" cy="451.3" r="5.9"/><circle cx="1358.6" cy="454.9" r="5.9"/><circle cx="1359.5" cy="458.4" r="5.9"/><circle cx="1360.4" cy="462" r="5.9"/><circle cx="1361.3" cy="465.6" r="5.9"/><circle cx="1362.2" cy="469.2" r="5.9"/><circle cx="1363.2" cy="472.8" r="5.9"/><circle cx="1364.1" cy="476.4" r="5.9"/><circle cx="1365" cy="480" r="5.9"/><circle cx="1365.9" cy="483.6" r="5.9"/><circle cx="1366.8" cy="487.2" r="5.9"/><circle cx="1367.7" cy="490.8" r="5.9"/><circle cx="1368.6" cy="494.3" r="5.9"/><circle cx="1369.5" cy="497.9" r="5.9"/><circle cx="1370.4" cy="501.5" r="5.9"/><circle cx="1371.3" cy="505.1" r="5.9"/><circle cx="1372.2" cy="508.7" r="5.9"/><circle cx="1373.2" cy="512.3" r="5.9"/><circle cx="1374.1" cy="515.9" r="5.9"/><circle cx="1375" cy="519.5" r="5.9"/><circle cx="1375.9" cy="523.1" r="5.9"/><circle cx="1376.8" cy="526.6" r="5.9"/><circle cx="1377.7" cy="530.2" r="5.9"/><circle cx="1378.6" cy="533.8" r="5.9"/><circle cx="1379.5" cy="537.4" r="5.9"/><circle cx="1380.4" cy="541" r="5.9"/><circle cx="1381.3" cy="544.6" r="5.9"/><circle cx="1382.3" cy="548.2" r="5.9"/><circle cx="1383.2" cy="551.8" r="5.9"/><circle cx="1384.1" cy="555.4" r="5.9"/><circle cx="1385" cy="559" r="5.9"/><circle cx="1385.9" cy="562.5" r="5.9"/><circle cx="1386.8" cy="566.1" r="5.9"/><circle cx="1387.7" cy="569.7" r="5.9"/><circle cx="1388.6" cy="573.3" r="5.9"/><circle cx="1389.4" cy="576.9" r="5.9"/><circle cx="1390.2" cy="580.5" r="5.9"/><circle cx="1391" cy="584.1" r="5.9"/><circle cx="1391.8" cy="587.7" r="5.9"/><circle cx="1392.6" cy="591.3" r="5.9"/><circle cx="1393.4" cy="594.8" r="5.9"/><circle cx="1394.2" cy="598.4" r="5.9"/><circle cx="1395" cy="602" r="5.9"/><circle cx="1395.8" cy="605.6" r="5.9"/><circle cx="1396.6" cy="609.2" r="5.9"/><circle cx="1397.4" cy="612.8" r="5.9"/><circle cx="1398.2" cy="616.4" r="5.9"/><circle cx="1399" cy="620" r="5.9"/><circle cx="1399.8" cy="623.6" r="5.9"/><circle cx="1400.6" cy="627.1" r="5.9"/><circle cx="1401.4" cy="630.7" r="5.9"/><circle cx="1402.2" cy="634.3" r="5.9"/><circle cx="1403" cy="637.9" r="5.9"/><circle cx="1403.8" cy="641.5" r="5.9"/><circle cx="1404.6" cy="645.1" r="5.9"/><circle cx="1405.4" cy="648.7" r="5.9"/><circle cx="1406.2" cy="652.3" r="5.9"/><circle cx="1407.1" cy="655.9" r="5.9"/><circle cx="1408" cy="659.5" r="5.9"/><circle cx="1408.9" cy="663" r="5.9"/><circle cx="1409.8" cy="666.6" r="5.9"/><circle cx="1410.7" cy="670.2" r="5.9"/><circle cx="1411.6" cy="673.8" r="5.9"/><circle cx="1412.5" cy="677.4" r="5.9"/><circle cx="1413.5" cy="681" r="5.9"/><circle cx="1414.4" cy="684.6" r="5.9"/><circle cx="1415.3" cy="688.2" r="5.9"/><circle cx="1416.2" cy="691.8" r="5.9"/><circle cx="1417.1" cy="695.3" r="5.9"/><circle cx="1418" cy="698.9" r="5.9"/><circle cx="1418.9" cy="702.5" r="5.9"/><circle cx="1419.8" cy="706.1" r="5.9"/><circle cx="1420.7" cy="709.7" r="5.9"/><circle cx="1421.6" cy="713.3" r="5.9"/><circle cx="1422.5" cy="716.9" r="5.9"/><circle cx="1423.4" cy="720.5" r="5.9"/><circle cx="1424.3" cy="724.1" r="5.9"/><circle cx="1425.2" cy="727.7" r="5.9"/><circle cx="1426" cy="731.2" r="5.9"/><circle cx="1426.7" cy="734.8" r="5.9"/><circle cx="1427.5" cy="738.4" r="5.9"/><circle cx="1428.2" cy="742" r="5.9"/><circle cx="1429" cy="745.6" r="5.9"/><circle cx="1429.7" cy="749.2" r="5.9"/><circle cx="1430.5" cy="752.8" r="5.9"/><circle cx="1431.2" cy="756.4" r="5.9"/><circle cx="1432" cy="760" r="5.9"/><circle cx="1432.8" cy="763.5" r="5.9"/><circle cx="1433.5" cy="767.1" r="5.9"/><circle cx="1434.3" cy="770.7" r="5.9"/><circle cx="1435" cy="774.3" r="5.9"/><circle cx="1435.8" cy="777.9" r="5.9"/><circle cx="1436.5" cy="781.5" r="5.9"/><circle cx="1437.3" cy="785.1" r="5.9"/><circle cx="1438" cy="788.7" r="5.9"/><circle cx="1438.8" cy="792.3" r="5.9"/><circle cx="1439.6" cy="795.9" r="5.9"/><circle cx="1440.3" cy="799.4" r="5.9"/><circle cx="1441.1" cy="803" r="5.9"/><circle cx="1441.8" cy="806.6" r="5.9"/><circle cx="1442" cy="807.5" r="5.9"/></g>
<g fill="#ff0000"><polygon points="1097.2,18.6 1097.2,20.2 1099.8,20.2 1099.8,18.6"/><polygon points="1097.2,20.2 1097.2,21.8 1099.8,21.8 1099.8,20.2"/><polygon points="1097.2,21.8 1097.2,23.3 1099.8,23.3 1099.8,21.8"/><polygon points="1097.2,23.3 1097.2,24.9 1099.8,24.9 1099.8,23.3"/><polygon points="1097.2,24.9 1097.2,26.5 1099.8,26.5 1099.8,24.9"/><polygon points="1097.2,26.5 1097.2,28.1 1099.8,28.1 1099.8,26.5"/><polygon points="1097.2,28.1 1097.2,30.4 1099.8,30.4 1099.8,28.1"/><polygon points="1097.2,30.8 1098.2,34.7 1100.8,34.1 1099.8,30.1"/><polygon points="1098.5,35.2 1101.9,39.3 1104.1,37.3 1100.5,33.5"/><polygon points="1102.1,39.5 1106.8,43.8 1109.2,40.7 1103.9,37.1"/><polygon points="1107,44 1114,48 1116,44.5 1109,40.5"/><polygon points="1114.2,48 1123,52.4 1125,47.9 1115.8,44.4"/><polygon points="1123,52.4 1131.8,56.8 1134.2,51.4 1125,47.9"/><polygon points="1131.8,56.8 1140.6,61.3 1143.4,54.8 1134.2,51.4"/><polygon points="1140.7,61.3 1159.5,69.6 1162.5,62.2 1143.3,54.8"/><polygon points="1159.4,69.6 1177.4,77.5 1180.6,70.2 1162.6,62.3"/><polygon points="1177.3,77.5 1194.3,85.3 1197.7,78.1 1180.7,70.2"/><polygon points="1194,85.2 1208,93.1 1212,86.1 1198,78.2"/><polygon points="1207.7,92.9 1219,100.3 1223,94.6 1212.3,86.3"/><polygon points="1218.8,100.2 1243.5,119.5 1247.3,114.9 1223.2,94.8"/><polygon points="1242.9,118.9 1256.4,138.6 1261.4,135.2 1247.9,115.5"/><polygon points="1256,137.7 1266.5,177 1271.3,175.8 1261.8,136.2"/><polygon points="1266.5,177.2 1279.3,216.9 1285.5,214.8 1271.3,175.6"/><polygon points="1279.3,216.8 1292.3,256.3 1298.5,254.2 1285.5,214.8"/><polygon points="1292.3,256.2 1304.8,295.6 1310.6,293.8 1298.5,254.3"/><polygon points="1304.8,295.5 1316.1,334.7 1320.5,333.6 1310.6,293.9"/><polygon points="1316.1,334.7 1337,413.5 1340.4,412.6 1320.5,333.6"/><polygon points="1337,413.5 1358.2,492.3 1361,491.5 1340.4,412.6"/><polygon points="1358.1,492.3 1378.5,571.1 1381.1,570.5 1361.1,491.6"/><polygon points="1378.6,571.2 1401.7,650.1 1404.1,649.3 1381,570.5"/><polygon points="1401.6,650 1422.2,728.9 1424.8,728.3 1404.2,649.4"/><polygon points="1422.2,728.9 1441.6,807.8 1444.2,807.2 1424.8,728.3"/><circle cx="1098.5" cy="18.6" r="1.3"/><circle cx="1098.5" cy="20.2" r="1.3"/><circle cx="1098.5" cy="21.8" r="1.3"/><circle cx="1098.5" cy="23.3" r="1.3"/><circle cx="1098.5" cy="24.9" r="1.3"/><circle cx="1098.5" cy="26.5" r="1.3"/><circle cx="1098.5" cy="28.1" r="1.3"/><circle cx="1098.5" cy="30.4" r="1.3"/><circle cx="1099.5" cy="34.4" r="1.3"/><circle cx="1103" cy="38.3" r="1.5"/><circle cx="1108" cy="42.3" r="2"/><circle cx="1115" cy="46.2" r="2"/><circle cx="1124" cy="50.2" r="2.5"/><circle cx="1133" cy="54.1" r="3"/><circle cx="1142" cy="58" r="3.5"/><circle cx="1161" cy="65.9" r="4"/><circle cx="1179" cy="73.8" r="4"/><circle cx="1196" cy="81.7" r="4"/><circle cx="1210" cy="89.6" r="4"/><circle cx="1221" cy="97.5" r="3.5"/><circle cx="1245.4" cy="117.2" r="3"/><circle cx="1258.9" cy="136.9" r="3"/><circle cx="1268.9" cy="176.4" r="2.5"/><circle cx="1282.4" cy="215.8" r="3.2"/><circle cx="1295.4" cy="255.3" r="3.2"/><circle cx="1307.7" cy="294.7" r="3"/><circle cx="1318.3" cy="334.2" r="2.2"/><circle cx="1338.7" cy="413" r="1.8"/><circle cx="1359.6" cy="491.9" r="1.5"/><circle cx="1379.8" cy="570.8" r="1.3"/><circle cx="1402.9" cy="649.7" r="1.3"/><circle cx="1423.5" cy="728.6" r="1.3"/><circle cx="1442.9" cy="807.5" r="1.3"/></g>
<polyline fill="none" stroke="#ff0000" stroke-width="0.1" stroke-linejoin="round" points="1098.5,18.6 1098.5,20.2 1098.5,21.8 1098.5,23.3 1098.5,24.9 1098.5,26.5 1098.5,28.1 1098.5,30.4 1099.5,34.4 1103,38.3 1108,42.3 1115,46.2 1124,50.2 1133,54.1 1142,58 1161,65.9 1179,73.8 1196,81.7 1210,89.6 1221,97.5 1245.4,117.2 1258.9,136.9 1268.9,176.4 1282.4,215.8 1295.4,255.3 1307.7,294.7 1318.3,334.2 1338.7,413 1359.6,491.9 1379.8,570.8 1402.9,649.7 1423.5,728.6 1442.9,807.5"/>
<g fill="#ff0000"><circle cx="1098.5" cy="18.6" r="6"/><circle cx="1098.5" cy="20.2" r="6"/><circle cx="1098.5" cy="21.8" r="6"/><circle cx="1098.5" cy="23.3" r="6"/><circle cx="1098.5" cy="24.9" r="6"/><circle cx="1098.5" cy="26.5" r="6"/><circle cx="1098.5" cy="28.1" r="6"/><circle cx="1098.5" cy="30.4" r="6"/><circle cx="1099.5" cy="34.4" r="6"/><circle cx="1103" cy="38.3" r="6"/><circle cx="1108" cy="42.3" r="6"/><circle cx="1115" cy="46.2" r="6"/><circle cx="1124" cy="50.2" r="6"/><circle cx="1133" cy="54.1" r="6"/><circle cx="1142" cy="58" r="6"/><circle cx="1161" cy="65.9" r="6"/><circle cx="1179" cy="73.8" r="6"/><circle cx="1196" cy="81.7" r="6"/><circle cx="1210" cy="89.6" r="6"/><circle cx="1221" cy="97.5" r="6"/><circle cx="1245.4" cy="117.2" r="6"/><circle cx="1258.9" cy="136.9" r="6"/><circle cx="1268.9" cy="176.4" r="6"/><circle cx="1282.4" cy="215.8" r="6"/><circle cx="1295.4" cy="255.3" r="6"/><circle cx="1307.7" cy="294.7" r="6"/><circle cx="1318.3" cy="334.2" r="6"/><circle cx="1338.7" cy="413" r="6"/><circle cx="1359.6" cy="491.9" r="6"/><circle cx="1379.8" cy="570.8" r="6"/><circle cx="1402.9" cy="649.7" r="6"/><circle cx="1423.5" cy="728.6" r="6"/><circle cx="1442.9" cy="807.5" r="6"/></g>
<polyline fill="none" stroke="#008000" stroke-width="2.6" stroke-linejoin="round" points="1102.9,18.6 1102.9,20.2 1102.9,21.8 1102.9,23.3 1102.9,24.9 1102.9,26.5 1102.9,28.1 1103.2,30.4 1104,34.4 1116.5,38.3 1126.5,42.3 1138.9,46.2 1150.7,50.2 1161.3,54.1 1170.7,58 1186.6,65.9 1201.3,73.8 1212.5,81.7 1220.8,89.6 1227.2,97.5 1241.2,117.2 1254.8,136.9 1275.4,176.4 1290.1,215.8 1303,255.3 1314.8,294.7 1326,334.2 1345.6,413 1365.8,491.9 1385.4,570.8 1403.8,649.7 1424,728.6 1442,807.5"/>
<g fill="#008000"><circle cx="1102.9" cy="18.6" r="6"/><circle cx="1102.9" cy="20.2" r="6"/><circle cx="1102.9" cy="21.8" r="6"/><circle cx="1102.9" cy="23.3" r="6"/><circle cx="1102.9" cy="24.9" r="6"/><circle cx="1102.9" cy="26.5" r="6"/><circle cx="1102.9" cy="28.1" r="6"/><circle cx="1103.2" cy="30.4" r="6"/><circle cx="1104" cy="34.4" r="6"/><circle cx="1116.5" cy="38.3" r="6"/><circle cx="1126.5" cy="42.3" r="6"/><circle cx="1138.9" cy="46.2" r="6"/><circle cx="1150.7" cy="50.2" r="6"/><circle cx="1161.3" cy="54.1" r="6"/><circle cx="1170.7" cy="58" r="6"/><circle cx="1186.6" cy="65.9" r="6"/><circle cx="1201.3" cy="73.8" r="6"/><circle cx="1212.5" cy="81.7" r="6"/><circle cx="1220.8" cy="89.6" r="6"/><circle cx="1227.2" cy="97.5" r="6"/><circle cx="1241.2" cy="117.2" r="6"/><circle cx="1254.8" cy="136.9" r="6"/><circle cx="1275.4" cy="176.4" r="6"/><circle cx="1290.1" cy="215.8" r="6"/><circle cx="1303" cy="255.3" r="6"/><circle cx="1314.8" cy="294.7" r="6"/><circle cx="1326" cy="334.2" r="6"/><circle cx="1345.6" cy="413" r="6"/><circle cx="1365.8" cy="491.9" r="6"/><circle cx="1385.4" cy="570.8" r="6"/><circle cx="1403.8" cy="649.7" r="6"/><circle cx="1424" cy="728.6" r="6"/><circle cx="1442" cy="807.5" r="6"/></g>
<polyline fill="none" stroke="#ff00ff" stroke-width="2.6" stroke-linejoin="round" points="1100.6,19 1100.6,19.8 1100.6,20.7 1100.6,21.6 1100.6,22.6 1100.6,23.7 1100.6,24.9 1100.6,26.1 1100.6,27.6 1100.6,29.2 1101.5,31.1 1102.5,33.2 1104,35.6 1106,38.5 1110,41.8 1118.9,45.7 1130.7,50.4 1145.4,56 1159.5,62.6 1174.2,70.5 1189.6,80.1 1204.3,91.4 1220.1,105.1 1237.7,121.7 1253.6,141.6 1266.6,165.4 1276.6,194.1 1288.6,228.4 1301.5,269.5 1315.4,318.5 1331.5,376.7 1349.4,445.5 1370.3,526.3 1395.5,620.8 1423.1,730.4"/>
<g fill="#ff00ff"><circle cx="1100.6" cy="19" r="6"/><circle cx="1100.6" cy="19.8" r="6"/><circle cx="1100.6" cy="20.7" r="6"/><circle cx="1100.6" cy="21.6" r="6"/><circle cx="1100.6" cy="22.6" r="6"/><circle cx="1100.6" cy="23.7" r="6"/><circle cx="1100.6" cy="24.9" r="6"/><circle cx="1100.6" cy="26.1" r="6"/><circle cx="1100.6" cy="27.6" r="6"/><circle cx="1100.6" cy="29.2" r="6"/><circle cx="1101.5" cy="31.1" r="6"/><circle cx="1102.5" cy="33.2" r="6"/><circle cx="1104" cy="35.6" r="6"/><circle cx="1106" cy="38.5" r="6"/><circle cx="1110" cy="41.8" r="6"/><circle cx="1118.9" cy="45.7" r="6"/><circle cx="1130.7" cy="50.4" r="6"/><circle cx="1145.4" cy="56" r="6"/><circle cx="1159.5" cy="62.6" r="6"/><circle cx="1174.2" cy="70.5" r="6"/><circle cx="1189.6" cy="80.1" r="6"/><circle cx="1204.3" cy="91.4" r="6"/><circle cx="1220.1" cy="105.1" r="6"/><circle cx="1237.7" cy="121.7" r="6"/><circle cx="1253.6" cy="141.6" r="6"/><circle cx="1266.6" cy="165.4" r="6"/><circle cx="1276.6" cy="194.1" r="6"/><circle cx="1288.6" cy="228.4" r="6"/><circle cx="1301.5" cy="269.5" r="6"/><circle cx="1315.4" cy="318.5" r="6"/><circle cx="1331.5" cy="376.7" r="6"/><circle cx="1349.4" cy="445.5" r="6"/><circle cx="1370.3" cy="526.3" r="6"/><circle cx="1395.5" cy="620.8" r="6"/><circle cx="1423.1" cy="730.4" r="6"/></g>
</g>
<rect x="1067.5" y="19.5" width="394" height="795" fill="none" stroke="#000" stroke-width="1.4"/>
<g stroke="#000" stroke-width="1.4">
<line x1="1072.5" y1="814.5" x2="1072.5" y2="820.5"/>
<line x1="1144.5" y1="814.5" x2="1144.5" y2="820.5"/>
<line x1="1216.5" y1="814.5" x2="1216.5" y2="820.5"/>
<line x1="1288.5" y1="814.5" x2="1288.5" y2="820.5"/>
<line x1="1360.5" y1="814.5" x2="1360.5" y2="820.5"/>
<line x1="1432.5" y1="814.5" x2="1432.5" y2="820.5"/>
<line x1="1061.5" y1="19.5" x2="1067.5" y2="19.5"/>
<line x1="1061.5" y1="97.5" x2="1067.5" y2="97.5"/>
<line x1="1061.5" y1="176.5" x2="1067.5" y2="176.5"/>
<line x1="1061.5" y1="255.5" x2="1067.5" y2="255.5"/>
<line x1="1061.5" y1="334.5" x2="1067.5" y2="334.5"/>
<line x1="1061.5" y1="413.5" x2="1067.5" y2="413.5"/>
<line x1="1061.5" y1="491.5" x2="1067.5" y2="491.5"/>
<line x1="1061.5" y1="570.5" x2="1067.5" y2="570.5"/>
<line x1="1061.5" y1="649.5" x2="1067.5" y2="649.5"/>
<line x1="1061.5" y1="728.5" x2="1067.5" y2="728.5"/>
<line x1="1061.5" y1="807.5" x2="1067.5" y2="807.5"/>
</g>
<g font-size="17.2" fill="#000">
<text transform="translate(1070.9 850.6) rotate(-45)" text-anchor="middle" dy="6.3">1022</text>
<text transform="translate(1142.9 850.6) rotate(-45)" text-anchor="middle" dy="6.3">1024</text>
<text transform="translate(1214.9 850.6) rotate(-45)" text-anchor="middle" dy="6.3">1026</text>
<text transform="translate(1286.9 850.6) rotate(-45)" text-anchor="middle" dy="6.3">1028</text>
<text transform="translate(1358.9 850.6) rotate(-45)" text-anchor="middle" dy="6.3">1030</text>
<text transform="translate(1430.9 850.6) rotate(-45)" text-anchor="middle" dy="6.3">1032</text>
</g>
</g>
<g font-weight="bold" font-size="22.6" fill="#000">
<text transform="translate(29 419) rotate(-90)" text-anchor="middle">Depth (m)</text>
<text x="294.9" y="871.8" text-anchor="middle">Temperature (<tspan font-weight="normal" font-style="italic" font-size="16" dx="0.8" dy="-8.3">o</tspan><tspan font-weight="normal" font-style="italic" dx="2.2" dy="8.3">C</tspan><tspan dx="0.6">)</tspan></text>
<text x="780.2" y="869.8" text-anchor="middle">Salinity</text>
<text x="1263.5" y="895.5" text-anchor="middle">Density (kg m-3)</text>
</g>
<text x="791" y="917.9" text-anchor="middle" font-style="italic" font-size="17.29" xml:space="preserve" style="white-space:pre">Ocean Heat Content (kJ/cm^2) - Glider: N/A,  RTOFS: 54.3242,  ESPC: 42.5778,  CMEMS: 60.6376,  NESDIS: 23.8040, </text>
<g font-weight="bold" font-size="22.6" fill="#000">
<text x="1511.8" y="36.6">Comparison Date: 2025-10-01</text>
<text x="1511.8" y="89.8">Glider: unit_1148</text>
<text x="1511.8" y="116.4">Profiles: 8</text>
<text x="1511.8" y="143">First: 2025-10-01 00:22:48</text>
<text x="1511.8" y="169.6">Last: 2025-10-01 11:17:01</text>
<text x="1511.8" y="196.2">Method: Nearest-Neighbor</text>
</g>
<g id="map">
<clipPath id="mclip"><rect x="1550.5" y="261" width="395.1" height="310.8"/></clipPath>
<rect x="1550.5" y="261" width="395.1" height="310.8" fill="#97b6e1"/>
<g clip-path="url(#mclip)" stroke-linejoin="round" stroke-linecap="round">
<polygon fill="#d2b48c" points="1545.5,256 1918.6,256 1915.6,261.3 1909.2,265.5 1903.8,268.2 1898.3,271.8 1894.7,274.6 1892,279.1 1887.4,283.7 1884.7,289.1 1882.9,295.5 1881,302.8 1880.1,310.1 1881,317.3 1882.9,326.4 1885.6,333.7 1888.3,340.1 1887.1,340 1891.8,348.2 1895.4,356.5 1898.3,364.7 1901.2,374.2 1904.2,382.4 1906.5,389.5 1907.4,396.5 1906.9,403.6 1905.7,411.8 1904.2,420.1 1901.2,424.8 1897.7,427.2 1893,427.2 1889.5,424.8 1886.5,421.3 1884.2,417.1 1880,413.6 1875.3,410.7 1873,406 1871.8,401.2 1873.6,396.5 1870.6,394.2 1868.3,398.9 1865.3,396.5 1863,390.6 1860,384.8 1856.5,378.9 1854.1,373 1853.5,365.9 1856.5,360 1857.7,353 1855.3,347.1 1851.8,343.5 1847.1,340 1857.4,353.7 1856.5,348.3 1852.8,344.6 1849.2,341 1845.6,335.5 1841,331 1836.5,326.4 1831,324.2 1827.4,325.5 1822.8,329.2 1818.3,332.8 1812.8,334.1 1808.2,332.8 1804.6,328.3 1801,322.8 1796.4,320.1 1791,317.3 1785.5,316.4 1780,315.9 1774.3,317.2 1769.2,318.5 1764,320.3 1760.2,320.7 1758.9,317.2 1759.2,312.7 1756.3,312.4 1755.7,317.2 1755.1,321 1752.5,321.4 1748.6,320.7 1742.2,320.1 1737.1,321.4 1735.1,323.6 1732.6,326.2 1729.4,329.4 1728.1,332 1730,333.9 1731.9,337.1 1733.9,339.7 1737.1,340.3 1739.6,343.5 1737.1,346.1 1733.9,347.4 1730.6,349.3 1731.3,346.7 1729.4,342.9 1725.5,340.3 1722.9,341 1719.7,343.5 1716.5,346.1 1711.4,346.7 1706.2,346.7 1702.4,345.5 1698.5,342.2 1696,339.7 1697.3,335.2 1694.7,335.8 1690.8,334.5 1688.3,332 1685.7,330 1681.8,330.7 1679.3,332.6 1678,336.1 1672.8,335.8 1667.7,334.2 1663.9,332.3 1660,331 1653.5,332.2 1648.4,332.8 1643.9,333.8 1639.4,335.7 1634.2,338.6 1630.4,341.2 1626.5,344.4 1622.7,347.6 1619.5,350.8 1615,352.8 1609.8,355.3 1604.7,358.5 1599.5,361.7 1594.4,365.6 1590.6,369.5 1587.3,373.3 1584.8,377.8 1587.4,375.1 1584.8,379.6 1583.2,384.8 1583.2,390.6 1584.2,395.7 1585.5,400.8 1586.4,406 1586.7,411.1 1586.1,416.2 1584.2,421.4 1582.3,425.2 1580,430 1579.5,427.3 1577.6,437 1575.6,446.6 1575.1,458.2 1574.7,469.7 1573.1,479.4 1573.1,487.1 1575.6,494.8 1578.5,501.5 1581.4,508.3 1584.7,516 1589.1,523.7 1594.9,530.4 1599.7,537.2 1602.6,544.9 1607.4,550.7 1610.3,556.4 1617.1,558 1624.8,558.7 1629.6,562.2 1634.4,568 1637.3,569.5 1644,567 1651.8,564.1 1660.4,563.8 1669.1,561.3 1676.8,558.7 1683.5,557.4 1692.2,554.1 1699.9,549.7 1705.7,544.9 1707.2,537.2 1709.6,533.3 1710.5,525.6 1711.1,517.9 1713.4,512.1 1719.2,508.3 1728.8,506 1738.5,504.4 1748.1,501.5 1755.8,500.2 1740,504.4 1747.7,501.5 1755.4,500.2 1765,501.5 1772.8,500.6 1777.6,502.1 1780.8,506.3 1780.5,512.1 1777.6,517.9 1773.7,523.7 1770.4,529.5 1768.9,535.2 1767,542.9 1765,550.7 1763.1,558.4 1760.8,566.1 1759.3,571.8 1759.3,576.8 1545.5,576.8"/>
<polygon fill="#d2b48c" stroke="#000" stroke-width="1.8" points="1814.3,495.1 1823.5,492.6 1824.2,490.8 1823.5,485.2 1827.2,480.9 1833.4,476.6 1840.8,473.5 1848.2,471.7 1856.8,470.5 1862.9,468.6 1871.6,468.6 1879,470.5 1883.9,469.2 1890,467.4 1896.2,468 1903.6,469.9 1909.7,472.3 1914.7,476 1919.6,479.7 1924.5,480.3 1930.7,481.5 1938.1,483.4 1945.5,484.6 1945.5,517.3 1940.5,514.2 1936.8,509.3 1934.4,503.1 1931.9,500 1927,500.6 1920.8,499.4 1914.7,496.9 1908.5,495.1 1903.6,492 1898.7,490.2 1891.3,490.2 1886.3,488.9 1881.4,488.3 1874,487.7 1869.1,485.9 1871.6,484 1876.5,482.8 1877.1,480.3 1872.8,479.1 1865.4,478.5 1859.3,478.5 1854.9,479.7 1850.6,482.8 1845.7,486.5 1840.8,488.9 1835.9,490.2 1830.9,492.6 1826.6,493.9 1823.5,495.7 1822.3,496.9 1817.4,496"/>
<polygon fill="#d2b48c" stroke="#000" stroke-width="2.6" points="1849.4,496.9 1851.3,494.5 1854.9,494.2 1858,496.3 1857.4,500 1854.9,502.5 1851.3,503.1 1848.8,501.3"/>
<polygon fill="#d2b48c" stroke="#000" stroke-width="1.8" points="1945.7,424.2 1943.2,425.3 1941.8,429.8 1936.3,438.4 1940.8,442.2 1945.7,448.1"/>
<polygon fill="#d2b48c" stroke="#000" stroke-width="1.8" points="1945.5,562.8 1940.5,563.2 1938.1,565.9 1940.5,568.1 1945.5,568.4"/>
<polygon fill="#d2b48c" stroke="#000" stroke-width="1.5" points="1775.6,525.6 1777.6,521.8 1780.8,520.8 1781.4,523.3 1778.5,526.6 1776.2,527.5"/>
<polyline fill="none" stroke="#97b6e1" stroke-width="1.8" points="1558.2,261.3 1562.7,263.6 1567.3,267.3 1571.8,270.9 1576.4,276.4 1583.7,286.4 1592.8,301 1601.9,317.3 1605.3,320 1604.7,323.9 1606,328.3 1606.6,332.8 1611.1,334.8 1615,336.7 1615.9,340.6 1615,345 1619.5,348.9"/>
<polyline fill="none" stroke="#97b6e1" stroke-width="1.8" points="1551.1,402.8 1556.6,405 1564.3,407.9 1572,409.8 1578.4,411.7 1582.3,413.7 1586.1,412.1"/>
<polyline fill="none" stroke="#97b6e1" stroke-width="1.8" points="1688.6,305.3 1690.8,308.2 1694.7,310.8 1697.3,315.3 1698.5,319.8 1702.4,323.6 1706.2,325.9 1711.4,326.2 1716.5,327.5 1720.4,329.1 1719.7,331.3 1721.7,333.9 1724.2,336.5 1728.1,340.3 1731.9,343.5"/>
<polyline fill="none" stroke="#97b6e1" stroke-width="1.8" points="1785.5,261.3 1790,268.2 1789.1,272.7 1778.2,274.6 1772.8,279.1 1768.2,283.7 1767.3,290 1761.8,297.3 1759.1,302.8 1761.5,299.2 1758.9,304.3 1757.3,310.1"/>
<polyline fill="none" stroke="#97b6e1" stroke-width="1.8" points="1816.1,311 1812.8,322.8 1813.7,331.9"/>
<polyline fill="none" stroke="#97b6e1" stroke-width="1.8" points="1551,495.7 1559.3,492.9 1568.9,490 1574.3,487.5"/>
<polyline fill="none" stroke="#97b6e1" stroke-width="1.8" points="1669.1,561.3 1671,566.1 1678.7,569 1680.7,571.8"/>
<polyline fill="none" stroke="#97b6e1" stroke-width="1.8" points="1673.9,559.3 1678.7,566.1"/>
<polygon fill="#b4b4b4" points="1892.4,386.5 1895.9,390.6 1893,396.3 1887.7,391.2"/>
<polyline fill="none" stroke="#000" stroke-width="1.5" points="1644.1,261.3 1644.1,282.8 1649.2,291.9 1653.7,302.8 1651.9,313.7 1650.1,322.8 1648.8,328.3"/>
<polyline fill="none" stroke="#000" stroke-width="1.5" points="1699.2,261.3 1700.1,270 1702,277.3 1696.5,286.4 1691,295.5 1689.5,298.6 1690.2,301.1 1688.9,304 1724.9,304.2 1724.2,307.6 1722.6,310.8 1724.2,314.6 1726.8,317.8 1727.4,321.4"/>
<polyline fill="none" stroke="#000" stroke-width="1.5" points="1751.3,261.3 1748.7,286.4 1749.9,305.6 1750.2,319.1"/>
<polyline fill="none" stroke="#000" stroke-width="1.5" points="1812.8,304.6 1764.6,304.6 1765.3,304.7 1766,308.8 1768.5,312.1 1768.5,315.9"/>
<polyline fill="none" stroke="#000" stroke-width="1.5" points="1809.2,261.3 1812.8,270 1814.6,277.3 1811.9,286.4 1812.8,297.3 1813.7,304.6 1816.1,310.6"/>
<polyline fill="none" stroke="#000" stroke-width="1.5" points="1816.1,310.6 1865.6,314.1 1866.5,318.2 1869.2,317.3 1869.6,310.1 1874.7,309.1 1880.1,310.1"/>
<polyline fill="none" stroke="#000" stroke-width="1.5" points="1879.2,261.3 1883.8,271.8 1887.4,280 1891,280.9"/>
<polyline fill="none" stroke="#000" stroke-width="1.5" stroke-dasharray="4.5 2.4" stroke-linecap="butt" points="1551.1,402.8 1556.6,405 1564.3,407.9 1572,409.8 1578.4,411.7 1582.3,413.7 1586.1,412.1"/>
<polyline fill="none" stroke="#000" stroke-width="1.5" stroke-dasharray="4.5 2.4" stroke-linecap="butt" points="1744.2,569.9 1747.1,565.1"/>
<polyline fill="none" stroke="#000" stroke-width="1.5" stroke-dasharray="4.5 2.4" stroke-linecap="butt" points="1743.9,569.9 1746.7,565.1"/>
<polyline fill="none" stroke="#000" stroke-width="1.8" points="1915.6,261.3 1909.2,265.5 1903.8,268.2 1898.3,271.8 1894.7,274.6 1892,279.1 1887.4,283.7 1884.7,289.1 1882.9,295.5 1881,302.8 1880.1,310.1 1881,317.3 1882.9,326.4 1885.6,333.7 1888.3,340.1 1887.1,340 1891.8,348.2 1895.4,356.5 1898.3,364.7 1901.2,374.2 1904.2,382.4 1906.5,389.5 1907.4,396.5 1906.9,403.6 1905.7,411.8 1904.2,420.1 1901.2,424.8 1897.7,427.2 1893,427.2 1889.5,424.8 1886.5,421.3 1884.2,417.1 1880,413.6 1875.3,410.7 1873,406 1871.8,401.2 1873.6,396.5 1870.6,394.2 1868.3,398.9 1865.3,396.5 1863,390.6 1860,384.8 1856.5,378.9 1854.1,373 1853.5,365.9 1856.5,360 1857.7,353 1855.3,347.1 1851.8,343.5 1847.1,340 1857.4,353.7 1856.5,348.3 1852.8,344.6 1849.2,341 1845.6,335.5 1841,331 1836.5,326.4 1831,324.2 1827.4,325.5 1822.8,329.2 1818.3,332.8 1812.8,334.1 1808.2,332.8 1804.6,328.3 1801,322.8 1796.4,320.1 1791,317.3 1785.5,316.4 1780,315.9 1774.3,317.2 1769.2,318.5 1764,320.3 1760.2,320.7 1758.9,317.2 1759.2,312.7 1756.3,312.4 1755.7,317.2 1755.1,321 1752.5,321.4 1748.6,320.7 1742.2,320.1 1737.1,321.4 1735.1,323.6 1732.6,326.2 1729.4,329.4 1728.1,332 1730,333.9 1731.9,337.1 1733.9,339.7 1737.1,340.3 1739.6,343.5 1737.1,346.1 1733.9,347.4 1730.6,349.3 1731.3,346.7 1729.4,342.9 1725.5,340.3 1722.9,341 1719.7,343.5 1716.5,346.1 1711.4,346.7 1706.2,346.7 1702.4,345.5 1698.5,342.2 1696,339.7 1697.3,335.2 1694.7,335.8 1690.8,334.5 1688.3,332 1685.7,330 1681.8,330.7 1679.3,332.6 1678,336.1 1672.8,335.8 1667.7,334.2 1663.9,332.3 1660,331 1653.5,332.2 1648.4,332.8 1643.9,333.8 1639.4,335.7 1634.2,338.6 1630.4,341.2 1626.5,344.4 1622.7,347.6 1619.5,350.8 1615,352.8 1609.8,355.3 1604.7,358.5 1599.5,361.7 1594.4,365.6 1590.6,369.5 1587.3,373.3 1584.8,377.8 1587.4,375.1 1584.8,379.6 1583.2,384.8 1583.2,390.6 1584.2,395.7 1585.5,400.8 1586.4,406 1586.7,411.1 1586.1,416.2 1584.2,421.4 1582.3,425.2 1580,430 1579.5,427.3 1577.6,437 1575.6,446.6 1575.1,458.2 1574.7,469.7 1573.1,479.4 1573.1,487.1 1575.6,494.8 1578.5,501.5 1581.4,508.3 1584.7,516 1589.1,523.7 1594.9,530.4 1599.7,537.2 1602.6,544.9 1607.4,550.7 1610.3,556.4 1617.1,558 1624.8,558.7 1629.6,562.2 1634.4,568 1637.3,569.5 1644,567 1651.8,564.1 1660.4,563.8 1669.1,561.3 1676.8,558.7 1683.5,557.4 1692.2,554.1 1699.9,549.7 1705.7,544.9 1707.2,537.2 1709.6,533.3 1710.5,525.6 1711.1,517.9 1713.4,512.1 1719.2,508.3 1728.8,506 1738.5,504.4 1748.1,501.5 1755.8,500.2 1740,504.4 1747.7,501.5 1755.4,500.2 1765,501.5 1772.8,500.6 1777.6,502.1 1780.8,506.3 1780.5,512.1 1777.6,517.9 1773.7,523.7 1770.4,529.5 1768.9,535.2 1767,542.9 1765,550.7 1763.1,558.4 1760.8,566.1 1759.3,571.8"/>
<polygon fill="#3c4d6b" stroke="#1a2230" stroke-width="0.9" points="1577.5,423 1581,421.5 1581.3,425 1578.6,433 1576.8,441 1576,448 1574.6,448 1574.6,440 1575.2,432 1575.4,427"/>
<polyline fill="none" stroke="#000" stroke-width="2.6" points="1854.7,365.3 1853.9,373 1856.5,378.9"/>
<polyline fill="none" stroke="#000" stroke-width="2.6" points="1863,390.6 1865.3,396.5 1868.3,398.9"/>
<polyline fill="none" stroke="#000" stroke-width="3" points="1892.4,355.9 1896.5,359.4"/>
<polyline fill="none" stroke="#000" stroke-width="3.4" points="1885.3,422.4 1889.5,427.2 1896.5,428.3 1902.4,424.8 1904.8,420.1"/>
<polyline fill="none" stroke="#000" stroke-width="3" points="1886.5,424.8 1889.5,429.5 1893,431.3"/>
<polyline fill="none" stroke="#000" stroke-width="4" points="1867.7,440.4 1873,439.5 1878.9,437.2 1884.8,436.6"/>
<polyline fill="none" stroke="#000" stroke-width="2" points="1884.8,436.6 1890.6,434.2 1896.5,430.7 1901.2,426"/>
<polyline fill="none" stroke="#000" stroke-width="2.6" points="1847.1,340.6 1851.8,343.8 1855.3,347.1 1857.4,353"/>
<polyline fill="none" stroke="#000" stroke-width="3" points="1880.1,304.6 1881.9,295.5 1884.7,289.1 1888.3,282.8 1892.9,277.3 1897.4,272.7 1903.8,268.2"/>
<polyline fill="none" stroke="#000" stroke-width="3.2" points="1804.6,330.1 1811,334.1 1816.4,333.7"/>
<polyline fill="none" stroke="#000" stroke-width="2.6" points="1849.2,341 1853.7,344.6 1856.5,348.3"/>
<polyline fill="none" stroke="#000" stroke-width="2.4" points="1822.8,329.2 1827.4,325.5 1831,324.2"/>
<polyline fill="none" stroke="#000" stroke-width="1.8" points="1936.6,384.5 1941.3,387.1 1945.4,387.7"/>
<polyline fill="none" stroke="#000" stroke-width="3" points="1926,396.3 1930.7,400.3 1934.2,398.9"/>
<polyline fill="none" stroke="#000" stroke-width="3" points="1934.2,394.2 1935.4,397.7"/>
<polyline fill="none" stroke="#000" stroke-width="3" points="1935.4,397.1 1945.4,395.4"/>
<polyline fill="none" stroke="#000" stroke-width="3.4" points="1942.9,425.5 1941.5,430 1936.8,438.1"/>
<polyline fill="none" stroke="#000" stroke-width="2.5" points="1941.3,390.1 1942,390.9"/>
<polyline fill="none" stroke="#000" stroke-width="3.4" points="1814.3,495.1 1823.5,492.6"/>
<polyline fill="none" stroke="#000" stroke-width="3.6" points="1881.4,470.5 1890,468.6 1903.6,471.3 1914.7,477.9 1920.8,482.8 1930.7,484.6 1938.1,487.7 1945.5,490.2"/>
<polyline fill="none" stroke="#000" stroke-width="3" points="1915.9,478.5 1924.5,482.8 1933.1,484 1945.5,487.7"/>
<polyline fill="none" stroke="#000" stroke-width="3.6" points="1867.9,486.5 1874,489.6 1880.2,490.8 1886.3,489.6"/>
<polyline fill="none" stroke="#000" stroke-width="2" points="1856.8,480.9 1861.7,482.8 1866.6,484.6"/>
<polyline fill="none" stroke="#000" stroke-width="2.4" points="1853.1,487.7 1856.8,492"/>
<polyline fill="none" stroke="#000" stroke-width="2.8" points="1859.3,500 1865.4,500.6 1871.6,499.4 1879,500 1882.7,498.8"/>
<polyline fill="none" stroke="#000" stroke-width="2.4" points="1839.6,492.6 1844.5,493.5"/>
<polyline fill="none" stroke="#000" stroke-width="2.4" points="1917.7,509.9 1923.3,513.6 1929.4,517.3 1935.6,520.3 1940.5,521.6"/>
<polyline fill="none" stroke="#000" stroke-width="3.6" points="1928.8,500.6 1930.1,504.3"/>
<polyline fill="none" stroke="#000" stroke-width="3.6" points="1880.8,545.5 1887.3,546"/>
<polyline fill="none" stroke="#000" stroke-width="2.4" points="1905.4,538.8 1912.8,537.6"/>
<polyline fill="none" stroke="#000" stroke-width="3.5" points="1764.1,538.1 1767,542.9 1764.7,547.8"/>
<polyline fill="none" stroke="#000" stroke-width="2.5" points="1750.6,564.1 1756.4,556.4 1758.3,564.1 1756.4,569.9"/>
<polyline fill="none" stroke="#000" stroke-width="2.5" points="1749.1,564.1 1754.8,556.4 1756.8,564.1 1754.8,569.9"/>
<polyline fill="none" stroke="#000" stroke-width="4.2" points="1764,319.4 1769.2,317.8 1773,314.6 1775.6,314 1778.8,315.3"/>
<polyline fill="none" stroke="#000" stroke-width="2.6" points="1756,312.7 1755.7,318.5"/>
<polyline fill="none" stroke="#000" stroke-width="2.6" points="1759.4,312.7 1759.7,318.5"/>
<polyline fill="none" stroke="#000" stroke-width="3.8" points="1730.6,319.1 1735.8,318.5 1740.9,317.2 1745.4,318.5 1749.9,319.4 1754.4,320.1"/>
<polyline fill="none" stroke="#000" stroke-width="4.8" points="1724.2,323 1728.1,324.3 1731.9,323 1734.5,321.7"/>
<polyline fill="none" stroke="#000" stroke-width="5.2" points="1724.9,326.2 1727.4,329.4 1726.8,333.9 1729.4,337.1 1732.6,340.3"/>
<polyline fill="none" stroke="#000" stroke-width="4.6" points="1730.6,326.2 1733.9,329.4 1733.2,333.3"/>
<polyline fill="none" stroke="#000" stroke-width="5.6" points="1696,341 1701.1,344.8 1706.2,346.1 1711.4,345.8 1716.5,345.1 1720.4,342.2"/>
<polyline fill="none" stroke="#000" stroke-width="4.2" points="1716.5,337.1 1721.7,338.4 1725.5,341"/>
<polyline fill="none" stroke="#000" stroke-width="3.6" points="1678.6,332 1681.8,330 1685.7,329.7 1688.9,332 1690.8,334.5 1694.7,335.2 1697.3,334.5"/>
<polyline fill="none" stroke="#000" stroke-width="2.8" points="1679.3,334.5 1684.4,336.5 1687,335.8"/>
<polyline fill="none" stroke="#000" stroke-width="2.8" points="1653.5,331.9 1643.9,333.5 1634.2,338.3 1626.5,344.1 1619.5,350.5 1609.8,355 1599.5,361.4 1590.6,369.1 1584.8,377.5"/>
<polyline fill="none" stroke="#000" stroke-width="4.6" points="1633.3,336.8 1625.2,342.5 1618.2,348.9 1608.5,353.4 1598.3,359.8 1589.3,367.5 1583.2,376.5"/>
<polyline fill="none" stroke="#000" stroke-width="4" points="1589.3,371.3 1585.5,379.6 1582.9,385.4 1581.6,391.2 1582.3,397 1583.5,402.1 1584.8,407.3 1585.8,411.1"/>
<polyline fill="none" stroke="#000" stroke-width="3" points="1579.5,502.5 1582.8,502.1"/>
<g fill="#000"><ellipse cx="1599.5" cy="355.6" rx="5.1" ry="2.7" transform="rotate(-20 1599.5 355.6)"/><ellipse cx="1593.4" cy="361.1" rx="2.4" ry="2.7" transform="rotate(-30 1593.4 361.1)"/><ellipse cx="1588.3" cy="366.6" rx="4" ry="2.3" transform="rotate(-30 1588.3 366.6)"/><ellipse cx="1582.5" cy="373.3" rx="3.7" ry="2.3" transform="rotate(-25 1582.5 373.3)"/><ellipse cx="1628.8" cy="335.4" rx="4.5" ry="3.5" transform="rotate(-40 1628.8 335.4)"/><ellipse cx="1625.9" cy="342.2" rx="4.2" ry="1.8" transform="rotate(-30 1625.9 342.2)"/><ellipse cx="1647.7" cy="329" rx="1.8" ry="3.5" transform="rotate(0 1647.7 329)"/><ellipse cx="1683.7" cy="333.8" rx="5.1" ry="3.5" transform="rotate(0 1683.7 333.8)"/><ellipse cx="1581" cy="373.2" rx="3.2" ry="2.1" transform="rotate(-30 1581 373.2)"/><ellipse cx="1576.5" cy="382.8" rx="3.5" ry="2.4" transform="rotate(0 1576.5 382.8)"/><ellipse cx="1580" cy="391.2" rx="2.4" ry="3.2" transform="rotate(0 1580 391.2)"/><ellipse cx="1581.6" cy="400.8" rx="2.1" ry="3.9" transform="rotate(10 1581.6 400.8)"/><ellipse cx="1857.9" cy="372.4" rx="4.2" ry="6.8" transform="rotate(-10 1857.9 372.4)"/><ellipse cx="1868" cy="395.1" rx="4.5" ry="4.9" transform="rotate(0 1868 395.1)"/></g>
<g fill="#97b6e1"><ellipse cx="1629.4" cy="334.5" rx="1.9" ry="0.6" transform="rotate(-50 1629.4 334.5)"/><ellipse cx="1601.1" cy="357.3" rx="1.4" ry="0.6" transform="rotate(-20 1601.1 357.3)"/><ellipse cx="1683" cy="333.2" rx="1.6" ry="0.8" transform="rotate(0 1683 333.2)"/><ellipse cx="1686.9" cy="333.8" rx="1.2" ry="0.6" transform="rotate(0 1686.9 333.8)"/></g>
<polyline fill="none" stroke="#000" stroke-width="2.8" stroke-dasharray="3 1.6" points="1741.6,325.5 1742.3,329.4 1740,333.3 1736.8,337.1 1734.5,338.5"/>
<polyline fill="none" stroke="#000" stroke-width="2.4" stroke-dasharray="3 1.6" points="1921.3,416 1921,420.1 1923,424.8 1923.9,426.9"/>
<polygon fill="#97b6e1" stroke="#000" stroke-width="1.5" points="1711.4,323 1713.3,319.8 1716.5,317.8 1719.7,318.8 1722.3,321.7 1721,324.3 1716.5,325.2 1713.3,324.9"/>
<polygon fill="#97b6e1" stroke="#000" stroke-width="1.5" points="1682.2,560.3 1686.4,557.4 1694.1,556.4 1697,558.4 1694.1,561.8 1687.4,563.2 1683.5,562.2"/>
<polygon fill="#97b6e1" stroke="#000" stroke-width="1.5" points="1756.3,312.4 1759.2,312.7 1759.2,318.5 1756.3,319.1"/>
<polygon fill="#97b6e1" stroke="#000" stroke-width="1.5" points="1731.9,342.9 1739,343.8 1735.8,347.4 1731,349.3"/>
<polyline fill="none" stroke="#111" stroke-width="1.3" stroke-dasharray="2 2.5" points="1899,452.8 1904.7,450.8"/>
<polyline fill="none" stroke="#111" stroke-width="1.3" stroke-dasharray="2 2.5" points="1909.6,450.5 1916.3,462"/>
<polyline fill="none" stroke="#111" stroke-width="1.3" stroke-dasharray="2 2.5" points="1899.5,454.7 1899.9,458.2"/>
<polyline fill="none" stroke="#111" stroke-width="1.3" stroke-dasharray="2 2.5" points="1883.9,499.7 1888.2,499.2"/>
<polyline fill="none" stroke="#111" stroke-width="1.3" stroke-dasharray="2 2.5" points="1914.7,460.6 1917.1,463.1"/>
<polyline fill="none" stroke="#111" stroke-width="1.3" stroke-dasharray="2 2.5" points="1927,510.5 1933.1,512.9"/>
<g fill="#444"><circle cx="1693.6" cy="489.6" r="1.1"/><circle cx="1724" cy="480.9" r="1.1"/><circle cx="1725.9" cy="484.8" r="1.1"/><circle cx="1677.4" cy="513.7" r="1.1"/><circle cx="1683" cy="528.1" r="1.1"/><circle cx="1853.3" cy="439.2" r="1.1"/><circle cx="1924.8" cy="410.3" r="1.1"/><circle cx="1928.9" cy="411.6" r="1.1"/><circle cx="1769.9" cy="557.4" r="1.1"/><circle cx="1769.9" cy="560.3" r="1.1"/></g>
<circle cx="1785.2" cy="423.5" r="4.0" fill="#f00" stroke="#000" stroke-width="1.5"/>
<circle cx="1786.2" cy="421.5" r="4.0" fill="#f00" stroke="#000" stroke-width="1.5"/>
</g>
<polyline fill="none" stroke="#000" stroke-width="1" points="1550.5,572.1 1945.8,572.1 1945.8,261"/>
<polyline fill="none" stroke="#c9c9c9" stroke-width="0.8" points="1550.3,571.8 1550.3,260.8 1945.6,260.8"/>
<g stroke="#000" fill="none">
<line x1="1541.8" y1="572.6" x2="1550.5" y2="572.6" stroke-width="3.3"/>
<line x1="1945.6" y1="572.6" x2="1954.3" y2="572.6" stroke-width="3.3"/>
<line x1="1547.5" y1="552.9" x2="1550.5" y2="552.9" stroke-width="1.4"/>
<line x1="1945.6" y1="552.9" x2="1948.6" y2="552.9" stroke-width="1.4"/>
<line x1="1547.5" y1="533.2" x2="1550.5" y2="533.2" stroke-width="1.4"/>
<line x1="1945.6" y1="533.2" x2="1948.6" y2="533.2" stroke-width="1.4"/>
<line x1="1541.8" y1="513.3" x2="1550.5" y2="513.3" stroke-width="3.3"/>
<line x1="1945.6" y1="513.3" x2="1954.3" y2="513.3" stroke-width="3.3"/>
<line x1="1547.5" y1="493.2" x2="1550.5" y2="493.2" stroke-width="1.4"/>
<line x1="1945.6" y1="493.2" x2="1948.6" y2="493.2" stroke-width="1.4"/>
<line x1="1547.5" y1="473" x2="1550.5" y2="473" stroke-width="1.4"/>
<line x1="1945.6" y1="473" x2="1948.6" y2="473" stroke-width="1.4"/>
<line x1="1541.8" y1="452.7" x2="1550.5" y2="452.7" stroke-width="3.3"/>
<line x1="1945.6" y1="452.7" x2="1954.3" y2="452.7" stroke-width="3.3"/>
<line x1="1547.5" y1="432.2" x2="1550.5" y2="432.2" stroke-width="1.4"/>
<line x1="1945.6" y1="432.2" x2="1948.6" y2="432.2" stroke-width="1.4"/>
<line x1="1547.5" y1="411.6" x2="1550.5" y2="411.6" stroke-width="1.4"/>
<line x1="1945.6" y1="411.6" x2="1948.6" y2="411.6" stroke-width="1.4"/>
<line x1="1541.8" y1="390.8" x2="1550.5" y2="390.8" stroke-width="3.3"/>
<line x1="1945.6" y1="390.8" x2="1954.3" y2="390.8" stroke-width="3.3"/>
<line x1="1547.5" y1="369.7" x2="1550.5" y2="369.7" stroke-width="1.4"/>
<line x1="1945.6" y1="369.7" x2="1948.6" y2="369.7" stroke-width="1.4"/>
<line x1="1547.5" y1="348.5" x2="1550.5" y2="348.5" stroke-width="1.4"/>
<line x1="1945.6" y1="348.5" x2="1948.6" y2="348.5" stroke-width="1.4"/>
<line x1="1541.8" y1="327.1" x2="1550.5" y2="327.1" stroke-width="3.3"/>
<line x1="1945.6" y1="327.1" x2="1954.3" y2="327.1" stroke-width="3.3"/>
<line x1="1547.5" y1="305.5" x2="1550.5" y2="305.5" stroke-width="1.4"/>
<line x1="1945.6" y1="305.5" x2="1948.6" y2="305.5" stroke-width="1.4"/>
<line x1="1547.5" y1="283.6" x2="1550.5" y2="283.6" stroke-width="1.4"/>
<line x1="1945.6" y1="283.6" x2="1948.6" y2="283.6" stroke-width="1.4"/>
<line x1="1541.8" y1="261.5" x2="1550.5" y2="261.5" stroke-width="3.3"/>
<line x1="1945.6" y1="261.5" x2="1954.3" y2="261.5" stroke-width="3.3"/>
<line x1="1551.3" y1="252.3" x2="1551.3" y2="261" stroke-width="3.3"/>
<line x1="1551.3" y1="571.8" x2="1551.3" y2="580.5" stroke-width="3.3"/>
<line x1="1570.1" y1="258" x2="1570.1" y2="261" stroke-width="1.4"/>
<line x1="1570.1" y1="571.8" x2="1570.1" y2="574.8" stroke-width="1.4"/>
<line x1="1588.9" y1="258" x2="1588.9" y2="261" stroke-width="1.4"/>
<line x1="1588.9" y1="571.8" x2="1588.9" y2="574.8" stroke-width="1.4"/>
<line x1="1607.7" y1="252.3" x2="1607.7" y2="261" stroke-width="3.3"/>
<line x1="1607.7" y1="571.8" x2="1607.7" y2="580.5" stroke-width="3.3"/>
<line x1="1626.5" y1="258" x2="1626.5" y2="261" stroke-width="1.4"/>
<line x1="1626.5" y1="571.8" x2="1626.5" y2="574.8" stroke-width="1.4"/>
<line x1="1645.3" y1="258" x2="1645.3" y2="261" stroke-width="1.4"/>
<line x1="1645.3" y1="571.8" x2="1645.3" y2="574.8" stroke-width="1.4"/>
<line x1="1664.1" y1="252.3" x2="1664.1" y2="261" stroke-width="3.3"/>
<line x1="1664.1" y1="571.8" x2="1664.1" y2="580.5" stroke-width="3.3"/>
<line x1="1682.9" y1="258" x2="1682.9" y2="261" stroke-width="1.4"/>
<line x1="1682.9" y1="571.8" x2="1682.9" y2="574.8" stroke-width="1.4"/>
<line x1="1701.7" y1="258" x2="1701.7" y2="261" stroke-width="1.4"/>
<line x1="1701.7" y1="571.8" x2="1701.7" y2="574.8" stroke-width="1.4"/>
<line x1="1720.5" y1="252.3" x2="1720.5" y2="261" stroke-width="3.3"/>
<line x1="1720.5" y1="571.8" x2="1720.5" y2="580.5" stroke-width="3.3"/>
<line x1="1739.3" y1="258" x2="1739.3" y2="261" stroke-width="1.4"/>
<line x1="1739.3" y1="571.8" x2="1739.3" y2="574.8" stroke-width="1.4"/>
<line x1="1758.1" y1="258" x2="1758.1" y2="261" stroke-width="1.4"/>
<line x1="1758.1" y1="571.8" x2="1758.1" y2="574.8" stroke-width="1.4"/>
<line x1="1776.9" y1="252.3" x2="1776.9" y2="261" stroke-width="3.3"/>
<line x1="1776.9" y1="571.8" x2="1776.9" y2="580.5" stroke-width="3.3"/>
<line x1="1795.7" y1="258" x2="1795.7" y2="261" stroke-width="1.4"/>
<line x1="1795.7" y1="571.8" x2="1795.7" y2="574.8" stroke-width="1.4"/>
<line x1="1814.5" y1="258" x2="1814.5" y2="261" stroke-width="1.4"/>
<line x1="1814.5" y1="571.8" x2="1814.5" y2="574.8" stroke-width="1.4"/>
<line x1="1833.3" y1="252.3" x2="1833.3" y2="261" stroke-width="3.3"/>
<line x1="1833.3" y1="571.8" x2="1833.3" y2="580.5" stroke-width="3.3"/>
<line x1="1852.1" y1="258" x2="1852.1" y2="261" stroke-width="1.4"/>
<line x1="1852.1" y1="571.8" x2="1852.1" y2="574.8" stroke-width="1.4"/>
<line x1="1870.9" y1="258" x2="1870.9" y2="261" stroke-width="1.4"/>
<line x1="1870.9" y1="571.8" x2="1870.9" y2="574.8" stroke-width="1.4"/>
<line x1="1889.7" y1="252.3" x2="1889.7" y2="261" stroke-width="3.3"/>
<line x1="1889.7" y1="571.8" x2="1889.7" y2="580.5" stroke-width="3.3"/>
<line x1="1908.5" y1="258" x2="1908.5" y2="261" stroke-width="1.4"/>
<line x1="1908.5" y1="571.8" x2="1908.5" y2="574.8" stroke-width="1.4"/>
<line x1="1927.3" y1="258" x2="1927.3" y2="261" stroke-width="1.4"/>
<line x1="1927.3" y1="571.8" x2="1927.3" y2="574.8" stroke-width="1.4"/>
<line x1="1946.1" y1="252.3" x2="1946.1" y2="261" stroke-width="3.3"/>
<line x1="1946.1" y1="571.8" x2="1946.1" y2="580.5" stroke-width="3.3"/>
</g>
<g font-size="22.6" fill="#000">
<text x="1536.3" y="581.6" text-anchor="end">18°N</text>
<text x="1536.3" y="522.3" text-anchor="end">21°N</text>
<text x="1536.3" y="461.7" text-anchor="end">24°N</text>
<text x="1536.3" y="399.8" text-anchor="end">27°N</text>
<text x="1536.3" y="336.1" text-anchor="end">30°N</text>
<text x="1536.3" y="270.5" text-anchor="end">33°N</text>
<text transform="translate(1549.8 618.5) rotate(-45)" text-anchor="middle" dy="8.3">99°W</text>
<text transform="translate(1606.2 618.5) rotate(-45)" text-anchor="middle" dy="8.3">96°W</text>
<text transform="translate(1662.6 618.5) rotate(-45)" text-anchor="middle" dy="8.3">93°W</text>
<text transform="translate(1719 618.5) rotate(-45)" text-anchor="middle" dy="8.3">90°W</text>
<text transform="translate(1775.4 618.5) rotate(-45)" text-anchor="middle" dy="8.3">87°W</text>
<text transform="translate(1831.8 618.5) rotate(-45)" text-anchor="middle" dy="8.3">84°W</text>
<text transform="translate(1888.2 618.5) rotate(-45)" text-anchor="middle" dy="8.3">81°W</text>
<text transform="translate(1944.6 618.5) rotate(-45)" text-anchor="middle" dy="8.3">78°W</text>
</g>
</g>
<g id="legend">
<rect x="1650.9" y="656" width="194.3" height="143.8" rx="4.2" fill="#fff" fill-opacity="0.8" stroke="#ccc" stroke-width="1.6"/>
<line x1="1659.1" y1="675.1" x2="1707.9" y2="675.1" stroke="#0000ff" stroke-width="2.6"/>
<circle cx="1683.5" cy="675.1" r="6" fill="#0000ff"/>
<text x="1723.8" y="683.7" font-size="22.6" fill="#000">unit_1148</text>
<line x1="1659.1" y1="709.5" x2="1707.9" y2="709.5" stroke="#ff0000" stroke-width="2.6"/>
<circle cx="1683.5" cy="709.5" r="6" fill="#ff0000"/>
<text x="1723.8" y="718.1" font-size="22.6" fill="#000">RTOFS</text>
<line x1="1659.1" y1="743.9" x2="1707.9" y2="743.9" stroke="#008000" stroke-width="2.6"/>
<circle cx="1683.5" cy="743.9" r="6" fill="#008000"/>
<text x="1723.8" y="752.5" font-size="22.6" fill="#000">ESPC</text>
<line x1="1659.1" y1="778.3" x2="1707.9" y2="778.3" stroke="#ff00ff" stroke-width="2.6"/>
<circle cx="1683.5" cy="778.3" r="6" fill="#ff00ff"/>
<text x="1723.8" y="786.9" font-size="22.6" fill="#000">CMEMS</text>
</g>
</svg>
</body></html>
